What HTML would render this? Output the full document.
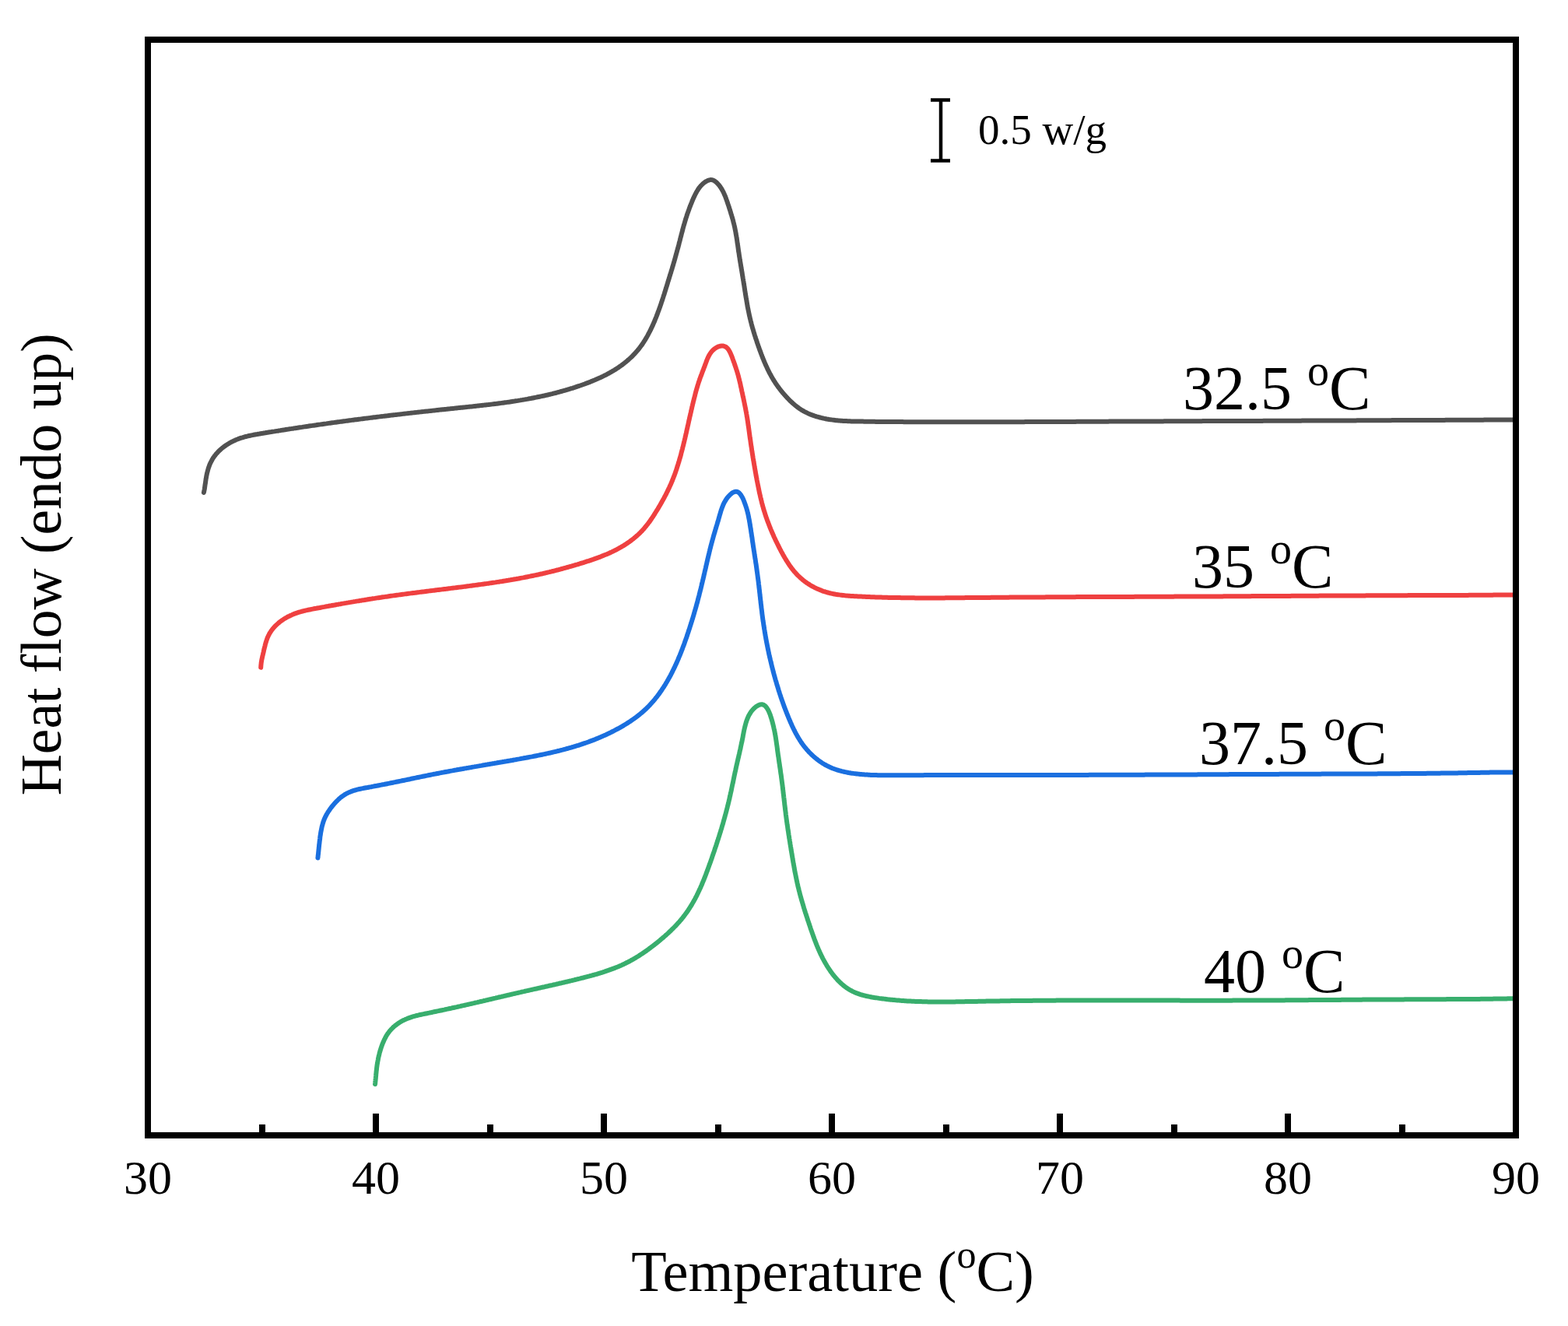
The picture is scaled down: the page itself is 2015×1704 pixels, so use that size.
<!DOCTYPE html>
<html><head><meta charset="utf-8"><title>DSC heat flow</title>
<style>
html,body{margin:0;padding:0;background:#fff;width:2015px;height:1704px;overflow:hidden}
svg{display:block}
text{font-family:"Liberation Serif","Times New Roman",serif;fill:#000}
.tl{font-size:62px}
.ax{font-size:74px}
.cl{font-size:80px}
.sb{font-size:55px}
</style></head><body>
<svg width="2015" height="1704" viewBox="0 0 2015 1704">
<rect x="0" y="0" width="2015" height="1704" fill="#fff"/>
<path d="M261.9,633.0 L262.2,631.5 L262.5,630.0 L262.8,628.5 L263.0,627.1 L263.2,625.6 L263.4,624.1 L263.6,622.6 L263.9,621.1 L264.1,619.7 L264.3,618.2 L264.5,616.7 L264.7,615.2 L265.0,613.8 L265.2,612.3 L265.5,610.8 L265.8,609.3 L266.1,607.9 L266.5,606.4 L266.9,604.9 L267.3,603.5 L267.7,602.0 L268.2,600.6 L268.7,599.2 L269.2,597.7 L269.8,596.3 L270.4,595.0 L271.1,593.6 L271.8,592.3 L272.5,591.0 L273.2,589.7 L274.0,588.4 L274.9,587.2 L275.7,586.0 L276.7,584.8 L277.6,583.6 L278.6,582.5 L279.6,581.4 L280.6,580.3 L281.7,579.3 L282.8,578.3 L283.9,577.2 L285.0,576.3 L286.2,575.3 L287.4,574.4 L288.6,573.5 L289.8,572.6 L291.1,571.8 L292.3,571.0 L293.6,570.2 L294.9,569.4 L296.2,568.7 L297.6,567.9 L298.9,567.3 L300.3,566.6 L301.7,566.0 L303.1,565.3 L304.4,564.8 L305.9,564.2 L307.3,563.7 L308.7,563.2 L310.1,562.7 L311.5,562.3 L313.0,561.8 L314.4,561.4 L315.9,561.0 L317.3,560.7 L318.8,560.3 L320.2,560.0 L321.7,559.7 L323.1,559.4 L324.6,559.1 L326.1,558.8 L327.6,558.5 L329.0,558.2 L330.5,558.0 L332.0,557.7 L333.5,557.5 L334.9,557.2 L336.4,557.0 L337.9,556.8 L339.4,556.5 L340.9,556.3 L342.3,556.0 L343.8,555.8 L345.3,555.5 L346.8,555.3 L348.3,555.1 L349.8,554.8 L351.2,554.6 L352.7,554.4 L354.2,554.1 L355.7,553.9 L357.2,553.7 L358.6,553.4 L360.1,553.2 L361.6,552.9 L363.1,552.7 L364.6,552.5 L366.1,552.3 L367.5,552.0 L369.0,551.8 L370.5,551.6 L372.0,551.3 L373.5,551.1 L375.0,550.9 L376.4,550.7 L377.9,550.4 L379.4,550.2 L380.9,550.0 L382.4,549.8 L383.9,549.5 L385.4,549.3 L386.8,549.1 L388.3,548.9 L389.8,548.6 L391.3,548.4 L392.8,548.2 L394.3,548.0 L395.8,547.8 L397.2,547.5 L398.7,547.3 L400.2,547.1 L401.7,546.9 L403.2,546.7 L404.7,546.5 L406.2,546.3 L407.6,546.0 L409.1,545.8 L410.6,545.6 L412.1,545.4 L413.6,545.2 L415.1,545.0 L416.6,544.8 L418.1,544.6 L419.5,544.4 L421.0,544.1 L422.5,543.9 L424.0,543.7 L425.5,543.5 L427.0,543.3 L428.5,543.1 L430.0,542.9 L431.4,542.7 L432.9,542.5 L434.4,542.3 L435.9,542.1 L437.4,541.9 L438.9,541.7 L440.4,541.5 L441.9,541.3 L443.4,541.1 L444.8,540.9 L446.3,540.7 L447.8,540.5 L449.3,540.3 L450.8,540.1 L452.3,539.9 L453.8,539.7 L455.3,539.5 L456.7,539.3 L458.2,539.2 L459.7,539.0 L461.2,538.8 L462.7,538.6 L464.2,538.4 L465.7,538.2 L467.2,538.0 L468.7,537.8 L470.1,537.6 L471.6,537.4 L473.1,537.3 L474.6,537.1 L476.1,536.9 L477.6,536.7 L479.1,536.5 L480.6,536.3 L482.1,536.2 L483.5,536.0 L485.0,535.8 L486.5,535.6 L488.0,535.4 L489.5,535.2 L491.0,535.1 L492.5,534.9 L494.0,534.7 L495.5,534.5 L496.9,534.4 L498.4,534.2 L499.9,534.0 L501.4,533.8 L502.9,533.6 L504.4,533.5 L505.9,533.3 L507.4,533.1 L508.9,532.9 L510.4,532.8 L511.8,532.6 L513.3,532.4 L514.8,532.3 L516.3,532.1 L517.8,531.9 L519.3,531.7 L520.8,531.6 L522.3,531.4 L523.8,531.2 L525.3,531.1 L526.7,530.9 L528.2,530.7 L529.7,530.6 L531.2,530.4 L532.7,530.2 L534.2,530.1 L535.7,529.9 L537.2,529.7 L538.7,529.6 L540.2,529.4 L541.7,529.2 L543.1,529.1 L544.6,528.9 L546.1,528.7 L547.6,528.6 L549.1,528.4 L550.6,528.3 L552.1,528.1 L553.6,527.9 L555.1,527.8 L556.6,527.6 L558.1,527.4 L559.6,527.3 L561.1,527.1 L562.5,527.0 L564.0,526.8 L565.5,526.6 L567.0,526.5 L568.5,526.3 L570.0,526.2 L571.5,526.0 L573.0,525.9 L574.5,525.7 L576.0,525.5 L577.5,525.4 L579.0,525.2 L580.5,525.1 L582.0,524.9 L583.5,524.8 L584.9,524.6 L586.4,524.5 L587.9,524.3 L589.4,524.1 L590.9,524.0 L592.4,523.8 L593.9,523.7 L595.4,523.5 L596.9,523.4 L598.4,523.2 L599.9,523.1 L601.4,522.9 L602.9,522.7 L604.4,522.6 L605.9,522.4 L607.4,522.3 L608.9,522.1 L610.4,522.0 L611.9,521.8 L613.3,521.6 L614.8,521.5 L616.3,521.3 L617.8,521.1 L619.3,521.0 L620.8,520.8 L622.3,520.6 L623.8,520.5 L625.3,520.3 L626.8,520.1 L628.3,519.9 L629.8,519.8 L631.3,519.6 L632.8,519.4 L634.2,519.2 L635.7,519.0 L637.2,518.9 L638.7,518.7 L640.2,518.5 L641.7,518.3 L643.2,518.1 L644.7,517.9 L646.2,517.7 L647.7,517.5 L649.1,517.3 L650.6,517.1 L652.1,516.9 L653.6,516.7 L655.1,516.5 L656.6,516.2 L658.1,516.0 L659.5,515.8 L661.0,515.6 L662.5,515.3 L664.0,515.1 L665.5,514.9 L666.9,514.6 L668.4,514.4 L669.9,514.1 L671.4,513.9 L672.9,513.6 L674.3,513.4 L675.8,513.1 L677.3,512.9 L678.8,512.6 L680.2,512.3 L681.7,512.1 L683.2,511.8 L684.7,511.5 L686.1,511.2 L687.6,510.9 L689.1,510.6 L690.5,510.3 L692.0,510.0 L693.5,509.7 L694.9,509.4 L696.4,509.1 L697.9,508.8 L699.3,508.5 L700.8,508.1 L702.3,507.8 L703.7,507.5 L705.2,507.1 L706.6,506.8 L708.1,506.4 L709.6,506.1 L711.0,505.7 L712.5,505.3 L713.9,505.0 L715.4,504.6 L716.8,504.2 L718.3,503.8 L719.7,503.4 L721.2,503.0 L722.6,502.6 L724.1,502.2 L725.5,501.8 L726.9,501.4 L728.4,501.0 L729.8,500.5 L731.3,500.1 L732.7,499.7 L734.1,499.2 L735.6,498.8 L737.0,498.3 L738.4,497.9 L739.9,497.4 L741.3,496.9 L742.7,496.4 L744.1,496.0 L745.6,495.5 L747.0,495.0 L748.4,494.5 L749.8,494.0 L751.2,493.5 L752.6,492.9 L754.1,492.4 L755.5,491.9 L756.9,491.3 L758.3,490.8 L759.7,490.2 L761.1,489.7 L762.5,489.1 L763.9,488.5 L765.2,487.9 L766.6,487.3 L768.0,486.7 L769.4,486.1 L770.7,485.5 L772.1,484.9 L773.5,484.2 L774.8,483.6 L776.2,482.9 L777.5,482.3 L778.9,481.6 L780.2,480.9 L781.5,480.2 L782.8,479.5 L784.1,478.7 L785.4,478.0 L786.7,477.2 L788.0,476.5 L789.3,475.7 L790.6,474.9 L791.9,474.1 L793.1,473.3 L794.4,472.5 L795.6,471.6 L796.8,470.8 L798.1,469.9 L799.3,469.0 L800.5,468.1 L801.7,467.2 L802.8,466.3 L804.0,465.3 L805.2,464.4 L806.3,463.4 L807.5,462.4 L808.6,461.4 L809.7,460.4 L810.8,459.4 L811.9,458.3 L812.9,457.3 L814.0,456.2 L815.0,455.1 L816.0,454.1 L817.0,452.9 L818.0,451.8 L819.0,450.7 L820.0,449.5 L820.9,448.4 L821.8,447.2 L822.7,446.0 L823.6,444.8 L824.5,443.6 L825.4,442.4 L826.2,441.1 L827.0,439.9 L827.8,438.6 L828.6,437.4 L829.4,436.1 L830.2,434.8 L830.9,433.5 L831.7,432.2 L832.4,430.9 L833.1,429.5 L833.8,428.2 L834.5,426.9 L835.2,425.5 L835.9,424.2 L836.5,422.8 L837.2,421.4 L837.8,420.1 L838.5,418.7 L839.1,417.3 L839.7,415.9 L840.3,414.6 L840.9,413.2 L841.5,411.8 L842.0,410.4 L842.6,409.0 L843.2,407.6 L843.7,406.2 L844.3,404.8 L844.8,403.4 L845.3,402.0 L845.8,400.5 L846.4,399.1 L846.9,397.7 L847.4,396.3 L847.9,394.9 L848.4,393.5 L848.9,392.1 L849.4,390.7 L849.8,389.2 L850.3,387.8 L850.8,386.4 L851.3,385.0 L851.7,383.6 L852.2,382.1 L852.6,380.7 L853.1,379.3 L853.6,377.9 L854.0,376.4 L854.5,375.0 L854.9,373.6 L855.3,372.2 L855.8,370.7 L856.2,369.3 L856.7,367.9 L857.1,366.4 L857.6,365.0 L858.0,363.6 L858.4,362.1 L858.9,360.7 L859.3,359.3 L859.8,357.8 L860.2,356.4 L860.6,355.0 L861.1,353.5 L861.5,352.1 L862.0,350.7 L862.4,349.2 L862.8,347.8 L863.3,346.4 L863.7,344.9 L864.1,343.5 L864.6,342.0 L865.0,340.6 L865.4,339.2 L865.8,337.7 L866.3,336.3 L866.7,334.8 L867.1,333.4 L867.5,331.9 L867.9,330.5 L868.3,329.0 L868.7,327.6 L869.1,326.1 L869.5,324.7 L869.9,323.2 L870.3,321.8 L870.7,320.3 L871.1,318.9 L871.5,317.4 L871.9,316.0 L872.3,314.5 L872.6,313.1 L873.0,311.6 L873.4,310.2 L873.8,308.7 L874.1,307.3 L874.5,305.8 L874.9,304.3 L875.3,302.9 L875.6,301.4 L876.0,300.0 L876.4,298.5 L876.8,297.1 L877.2,295.6 L877.5,294.2 L877.9,292.7 L878.3,291.3 L878.7,289.9 L879.1,288.4 L879.6,287.0 L880.0,285.5 L880.4,284.1 L880.8,282.7 L881.3,281.2 L881.7,279.8 L882.2,278.4 L882.6,277.0 L883.1,275.5 L883.6,274.1 L884.1,272.7 L884.6,271.3 L885.1,269.9 L885.6,268.5 L886.1,267.1 L886.6,265.7 L887.2,264.3 L887.7,262.9 L888.3,261.5 L888.9,260.1 L889.4,258.7 L890.0,257.3 L890.6,255.9 L891.2,254.6 L891.8,253.2 L892.5,251.8 L893.1,250.5 L893.8,249.1 L894.5,247.8 L895.2,246.5 L896.0,245.2 L896.8,243.9 L897.6,242.6 L898.5,241.4 L899.4,240.2 L900.4,239.1 L901.4,238.0 L902.5,236.9 L903.7,235.8 L904.9,234.8 L906.1,233.9 L907.4,233.1 L908.8,232.4 L910.1,231.8 L911.5,231.4 L912.9,231.1 L914.2,231.1 L915.5,231.3 L916.8,231.8 L918.1,232.4 L919.3,233.2 L920.5,234.2 L921.6,235.3 L922.7,236.5 L923.8,237.7 L924.8,239.0 L925.7,240.3 L926.6,241.6 L927.4,242.9 L928.2,244.3 L928.9,245.6 L929.6,246.9 L930.2,248.3 L930.8,249.6 L931.4,251.0 L932.0,252.3 L932.5,253.7 L933.0,255.1 L933.5,256.5 L934.0,257.8 L934.5,259.2 L934.9,260.6 L935.4,262.0 L935.9,263.4 L936.4,264.8 L936.8,266.3 L937.3,267.7 L937.7,269.1 L938.2,270.5 L938.7,272.0 L939.1,273.4 L939.5,274.9 L940.0,276.3 L940.4,277.8 L940.8,279.2 L941.3,280.7 L941.7,282.1 L942.1,283.6 L942.4,285.1 L942.8,286.5 L943.2,288.0 L943.5,289.5 L943.9,290.9 L944.2,292.4 L944.5,293.9 L944.8,295.3 L945.1,296.8 L945.4,298.3 L945.6,299.8 L945.9,301.3 L946.1,302.7 L946.4,304.2 L946.6,305.7 L946.9,307.2 L947.1,308.6 L947.3,310.1 L947.5,311.6 L947.7,313.1 L948.0,314.6 L948.2,316.0 L948.4,317.5 L948.6,319.0 L948.8,320.5 L949.0,322.0 L949.2,323.5 L949.5,324.9 L949.7,326.4 L949.9,327.9 L950.1,329.4 L950.4,330.9 L950.6,332.3 L950.8,333.8 L951.1,335.3 L951.3,336.8 L951.6,338.3 L951.8,339.7 L952.0,341.2 L952.3,342.7 L952.5,344.2 L952.8,345.7 L953.0,347.1 L953.3,348.6 L953.5,350.1 L953.8,351.6 L954.0,353.1 L954.2,354.6 L954.5,356.0 L954.7,357.5 L955.0,359.0 L955.2,360.5 L955.5,362.0 L955.7,363.5 L955.9,364.9 L956.2,366.4 L956.4,367.9 L956.6,369.4 L956.9,370.9 L957.1,372.4 L957.3,373.9 L957.6,375.3 L957.8,376.8 L958.0,378.3 L958.3,379.8 L958.5,381.3 L958.8,382.8 L959.0,384.2 L959.3,385.7 L959.5,387.2 L959.8,388.7 L960.0,390.2 L960.3,391.6 L960.5,393.1 L960.8,394.6 L961.1,396.1 L961.4,397.5 L961.7,399.0 L962.0,400.5 L962.3,402.0 L962.6,403.4 L962.9,404.9 L963.2,406.3 L963.6,407.8 L963.9,409.3 L964.3,410.7 L964.6,412.2 L965.0,413.6 L965.4,415.1 L965.7,416.5 L966.1,418.0 L966.5,419.4 L966.9,420.9 L967.3,422.3 L967.8,423.7 L968.2,425.2 L968.6,426.6 L969.0,428.0 L969.5,429.5 L969.9,430.9 L970.4,432.3 L970.8,433.8 L971.3,435.2 L971.8,436.6 L972.3,438.0 L972.7,439.5 L973.2,440.9 L973.7,442.3 L974.2,443.7 L974.7,445.2 L975.2,446.6 L975.7,448.0 L976.2,449.4 L976.7,450.8 L977.3,452.2 L977.8,453.7 L978.3,455.1 L978.9,456.5 L979.4,457.9 L979.9,459.3 L980.5,460.7 L981.1,462.1 L981.6,463.5 L982.2,464.9 L982.8,466.3 L983.4,467.6 L984.0,469.0 L984.6,470.4 L985.3,471.7 L985.9,473.1 L986.5,474.5 L987.2,475.8 L987.9,477.2 L988.5,478.5 L989.2,479.8 L989.9,481.1 L990.7,482.5 L991.4,483.8 L992.1,485.1 L992.9,486.3 L993.6,487.6 L994.4,488.9 L995.2,490.2 L996.0,491.4 L996.8,492.7 L997.7,493.9 L998.5,495.1 L999.4,496.4 L1000.3,497.6 L1001.2,498.8 L1002.1,500.0 L1003.0,501.2 L1003.9,502.3 L1004.9,503.5 L1005.8,504.7 L1006.8,505.8 L1007.8,506.9 L1008.8,508.1 L1009.8,509.2 L1010.8,510.3 L1011.8,511.4 L1012.9,512.5 L1013.9,513.6 L1015.0,514.7 L1016.1,515.7 L1017.2,516.8 L1018.3,517.8 L1019.4,518.8 L1020.6,519.8 L1021.7,520.7 L1022.9,521.7 L1024.1,522.6 L1025.3,523.5 L1026.5,524.4 L1027.7,525.2 L1029.0,526.1 L1030.2,526.9 L1031.5,527.6 L1032.8,528.4 L1034.1,529.1 L1035.5,529.8 L1036.8,530.4 L1038.2,531.1 L1039.5,531.7 L1040.9,532.3 L1042.3,532.8 L1043.7,533.4 L1045.1,533.9 L1046.5,534.4 L1048.0,534.8 L1049.4,535.3 L1050.8,535.7 L1052.3,536.1 L1053.7,536.5 L1055.2,536.9 L1056.7,537.2 L1058.1,537.6 L1059.6,537.9 L1061.1,538.2 L1062.5,538.5 L1064.0,538.7 L1065.5,539.0 L1067.0,539.2 L1068.4,539.4 L1069.9,539.6 L1071.4,539.8 L1072.9,540.0 L1074.4,540.2 L1075.9,540.3 L1077.4,540.4 L1078.9,540.6 L1080.4,540.7 L1081.9,540.8 L1083.3,540.9 L1084.8,541.0 L1086.3,541.1 L1087.8,541.1 L1089.3,541.2 L1090.8,541.3 L1092.3,541.3 L1093.9,541.4 L1095.4,541.4 L1096.9,541.4 L1098.4,541.5 L1099.9,541.5 L1101.4,541.5 L1102.9,541.6 L1104.4,541.6 L1105.9,541.6 L1107.4,541.6 L1108.9,541.6 L1110.4,541.7 L1111.9,541.7 L1113.4,541.7 L1114.9,541.7 L1116.4,541.7 L1117.9,541.8 L1119.4,541.8 L1120.9,541.8 L1122.4,541.8 L1123.9,541.8 L1125.4,541.9 L1126.9,541.9 L1128.4,541.9 L1129.9,541.9 L1131.4,541.9 L1132.9,541.9 L1134.4,541.9 L1136.0,542.0 L1137.5,542.0 L1139.0,542.0 L1140.5,542.0 L1142.0,542.0 L1143.5,542.0 L1145.0,542.0 L1146.5,542.1 L1148.0,542.1 L1149.5,542.1 L1151.0,542.1 L1152.5,542.1 L1154.0,542.1 L1155.5,542.1 L1157.0,542.1 L1158.5,542.1 L1160.0,542.1 L1161.5,542.2 L1163.0,542.2 L1164.5,542.2 L1166.0,542.2 L1167.5,542.2 L1169.0,542.2 L1170.5,542.2 L1172.0,542.2 L1173.5,542.2 L1175.0,542.2 L1176.5,542.2 L1178.0,542.2 L1179.5,542.2 L1181.0,542.3 L1182.5,542.3 L1184.0,542.3 L1185.5,542.3 L1187.0,542.3 L1188.5,542.3 L1190.0,542.3 L1191.5,542.3 L1193.0,542.3 L1194.5,542.3 L1196.0,542.3 L1197.5,542.3 L1199.0,542.3 L1200.5,542.3 L1202.0,542.3 L1203.5,542.3 L1205.0,542.3 L1206.5,542.3 L1208.0,542.3 L1209.5,542.3 L1211.0,542.3 L1212.5,542.3 L1214.0,542.3 L1215.5,542.3 L1217.0,542.3 L1218.5,542.3 L1220.0,542.3 L1221.5,542.3 L1223.0,542.3 L1224.5,542.3 L1226.0,542.3 L1227.5,542.3 L1229.0,542.3 L1230.5,542.3 L1232.0,542.3 L1233.5,542.3 L1235.0,542.3 L1236.5,542.3 L1238.0,542.3 L1239.5,542.3 L1241.0,542.3 L1242.5,542.3 L1244.0,542.3 L1245.5,542.3 L1247.0,542.3 L1248.5,542.3 L1250.0,542.3 L1251.5,542.3 L1253.0,542.3 L1254.5,542.3 L1256.0,542.3 L1257.5,542.3 L1259.0,542.3 L1260.5,542.3 L1262.0,542.3 L1263.5,542.3 L1265.0,542.3 L1266.5,542.3 L1268.0,542.3 L1269.5,542.3 L1271.0,542.3 L1272.5,542.3 L1274.0,542.3 L1275.5,542.3 L1277.0,542.3 L1278.5,542.3 L1280.0,542.3 L1281.5,542.3 L1283.0,542.3 L1284.5,542.3 L1286.0,542.3 L1287.5,542.2 L1289.0,542.2 L1290.5,542.2 L1292.0,542.2 L1293.5,542.2 L1295.0,542.2 L1296.5,542.2 L1298.0,542.2 L1299.5,542.2 L1301.0,542.2 L1302.5,542.2 L1304.0,542.2 L1305.5,542.2 L1307.0,542.2 L1308.5,542.2 L1310.0,542.2 L1311.5,542.2 L1313.0,542.2 L1314.5,542.2 L1316.0,542.2 L1317.5,542.1 L1319.0,542.1 L1320.5,542.1 L1322.0,542.1 L1323.5,542.1 L1325.0,542.1 L1326.5,542.1 L1328.1,542.1 L1329.6,542.1 L1331.1,542.1 L1332.6,542.1 L1334.1,542.1 L1335.6,542.1 L1337.1,542.1 L1338.6,542.1 L1340.1,542.1 L1341.6,542.0 L1343.1,542.0 L1344.6,542.0 L1346.1,542.0 L1347.6,542.0 L1349.1,542.0 L1350.6,542.0 L1352.1,542.0 L1353.6,542.0 L1355.1,542.0 L1356.6,542.0 L1358.1,542.0 L1359.6,542.0 L1361.1,542.0 L1362.6,541.9 L1364.1,541.9 L1365.6,541.9 L1367.1,541.9 L1368.6,541.9 L1370.1,541.9 L1371.6,541.9 L1373.1,541.9 L1374.6,541.9 L1376.1,541.9 L1377.6,541.9 L1379.1,541.9 L1380.6,541.9 L1382.1,541.9 L1383.6,541.8 L1385.1,541.8 L1386.6,541.8 L1388.1,541.8 L1389.6,541.8 L1391.1,541.8 L1392.6,541.8 L1394.1,541.8 L1395.6,541.8 L1397.1,541.8 L1398.6,541.8 L1400.1,541.8 L1401.6,541.8 L1403.1,541.8 L1404.6,541.7 L1406.1,541.7 L1407.6,541.7 L1409.1,541.7 L1410.6,541.7 L1412.1,541.7 L1413.6,541.7 L1415.1,541.7 L1416.6,541.7 L1418.1,541.7 L1419.6,541.7 L1421.1,541.7 L1422.6,541.7 L1424.1,541.7 L1425.6,541.6 L1427.1,541.6 L1428.6,541.6 L1430.1,541.6 L1431.6,541.6 L1433.1,541.6 L1434.6,541.6 L1436.1,541.6 L1437.6,541.6 L1439.1,541.6 L1440.6,541.6 L1442.1,541.6 L1443.6,541.6 L1445.1,541.6 L1446.7,541.6 L1448.2,541.5 L1449.7,541.5 L1451.2,541.5 L1452.7,541.5 L1454.2,541.5 L1455.7,541.5 L1457.2,541.5 L1458.7,541.5 L1460.2,541.5 L1461.7,541.5 L1463.2,541.5 L1464.7,541.5 L1466.2,541.5 L1467.7,541.5 L1469.2,541.5 L1470.7,541.5 L1472.2,541.4 L1473.7,541.4 L1475.2,541.4 L1476.7,541.4 L1478.2,541.4 L1479.7,541.4 L1481.2,541.4 L1482.7,541.4 L1484.2,541.4 L1485.7,541.4 L1487.2,541.4 L1488.7,541.4 L1490.2,541.4 L1491.7,541.4 L1493.2,541.4 L1494.7,541.4 L1496.2,541.3 L1497.7,541.3 L1499.2,541.3 L1500.7,541.3 L1502.2,541.3 L1503.7,541.3 L1505.2,541.3 L1506.7,541.3 L1508.2,541.3 L1509.7,541.3 L1511.2,541.3 L1512.7,541.3 L1514.2,541.3 L1515.7,541.3 L1517.2,541.3 L1518.7,541.3 L1520.2,541.2 L1521.7,541.2 L1523.2,541.2 L1524.7,541.2 L1526.2,541.2 L1527.7,541.2 L1529.2,541.2 L1530.7,541.2 L1532.2,541.2 L1533.7,541.2 L1535.2,541.2 L1536.7,541.2 L1538.2,541.2 L1539.7,541.2 L1541.2,541.2 L1542.7,541.2 L1544.2,541.2 L1545.7,541.1 L1547.2,541.1 L1548.7,541.1 L1550.2,541.1 L1551.7,541.1 L1553.2,541.1 L1554.7,541.1 L1556.2,541.1 L1557.7,541.1 L1559.2,541.1 L1560.7,541.1 L1562.2,541.1 L1563.7,541.1 L1565.2,541.1 L1566.7,541.1 L1568.2,541.1 L1569.7,541.1 L1571.2,541.1 L1572.7,541.0 L1574.2,541.0 L1575.7,541.0 L1577.2,541.0 L1578.7,541.0 L1580.2,541.0 L1581.7,541.0 L1583.2,541.0 L1584.7,541.0 L1586.2,541.0 L1587.7,541.0 L1589.2,541.0 L1590.7,541.0 L1592.2,541.0 L1593.7,541.0 L1595.3,541.0 L1596.8,541.0 L1598.3,540.9 L1599.8,540.9 L1601.3,540.9 L1602.8,540.9 L1604.3,540.9 L1605.8,540.9 L1607.3,540.9 L1608.8,540.9 L1610.3,540.9 L1611.8,540.9 L1613.3,540.9 L1614.8,540.9 L1616.3,540.9 L1617.8,540.9 L1619.3,540.9 L1620.8,540.9 L1622.3,540.9 L1623.8,540.8 L1625.3,540.8 L1626.8,540.8 L1628.3,540.8 L1629.8,540.8 L1631.3,540.8 L1632.8,540.8 L1634.3,540.8 L1635.8,540.8 L1637.3,540.8 L1638.8,540.8 L1640.3,540.8 L1641.8,540.8 L1643.3,540.8 L1644.8,540.8 L1646.3,540.8 L1647.8,540.8 L1649.3,540.7 L1650.8,540.7 L1652.3,540.7 L1653.8,540.7 L1655.3,540.7 L1656.8,540.7 L1658.3,540.7 L1659.8,540.7 L1661.3,540.7 L1662.8,540.7 L1664.3,540.7 L1665.8,540.7 L1667.3,540.7 L1668.8,540.7 L1670.3,540.7 L1671.8,540.7 L1673.3,540.6 L1674.8,540.6 L1676.3,540.6 L1677.8,540.6 L1679.3,540.6 L1680.8,540.6 L1682.3,540.6 L1683.8,540.6 L1685.3,540.6 L1686.8,540.6 L1688.3,540.6 L1689.8,540.6 L1691.3,540.6 L1692.8,540.6 L1694.3,540.6 L1695.8,540.6 L1697.3,540.5 L1698.8,540.5 L1700.3,540.5 L1701.8,540.5 L1703.3,540.5 L1704.8,540.5 L1706.3,540.5 L1707.8,540.5 L1709.3,540.5 L1710.8,540.5 L1712.3,540.5 L1713.8,540.5 L1715.3,540.5 L1716.8,540.5 L1718.3,540.5 L1719.8,540.5 L1721.3,540.4 L1722.8,540.4 L1724.3,540.4 L1725.8,540.4 L1727.3,540.4 L1728.8,540.4 L1730.3,540.4 L1731.8,540.4 L1733.3,540.4 L1734.8,540.4 L1736.3,540.4 L1737.8,540.4 L1739.3,540.4 L1740.9,540.4 L1742.4,540.4 L1743.9,540.3 L1745.4,540.3 L1746.9,540.3 L1748.4,540.3 L1749.9,540.3 L1751.4,540.3 L1752.9,540.3 L1754.4,540.3 L1755.9,540.3 L1757.4,540.3 L1758.9,540.3 L1760.4,540.3 L1761.9,540.3 L1763.4,540.3 L1764.9,540.3 L1766.4,540.2 L1767.9,540.2 L1769.4,540.2 L1770.9,540.2 L1772.4,540.2 L1773.9,540.2 L1775.4,540.2 L1776.9,540.2 L1778.4,540.2 L1779.9,540.2 L1781.4,540.2 L1782.9,540.2 L1784.4,540.2 L1785.9,540.2 L1787.4,540.2 L1788.9,540.1 L1790.4,540.1 L1791.9,540.1 L1793.4,540.1 L1794.9,540.1 L1796.4,540.1 L1797.9,540.1 L1799.4,540.1 L1800.9,540.1 L1802.4,540.1 L1803.9,540.1 L1805.4,540.1 L1806.9,540.1 L1808.4,540.1 L1809.9,540.1 L1811.4,540.0 L1812.9,540.0 L1814.4,540.0 L1815.9,540.0 L1817.4,540.0 L1818.9,540.0 L1820.4,540.0 L1821.9,540.0 L1823.4,540.0 L1824.9,540.0 L1826.4,540.0 L1827.9,540.0 L1829.4,540.0 L1830.9,540.0 L1832.4,540.0 L1833.9,539.9 L1835.4,539.9 L1836.9,539.9 L1838.4,539.9 L1839.9,539.9 L1841.4,539.9 L1842.9,539.9 L1844.4,539.9 L1845.9,539.9 L1847.4,539.9 L1848.9,539.9 L1850.4,539.9 L1851.9,539.9 L1853.4,539.9 L1854.9,539.9 L1856.4,539.9 L1857.9,539.8 L1859.4,539.8 L1860.9,539.8 L1862.4,539.8 L1863.9,539.8 L1865.4,539.8 L1866.9,539.8 L1868.4,539.8 L1869.9,539.8 L1871.4,539.8 L1872.9,539.8 L1874.5,539.8 L1876.0,539.8 L1877.5,539.8 L1879.0,539.8 L1880.5,539.8 L1882.0,539.7 L1883.5,539.7 L1885.0,539.7 L1886.5,539.7 L1888.0,539.7 L1889.5,539.7 L1891.0,539.7 L1892.5,539.7 L1894.0,539.7 L1895.5,539.7 L1897.0,539.7 L1898.5,539.7 L1900.0,539.7 L1901.5,539.7 L1903.0,539.7 L1904.5,539.7 L1906.0,539.7 L1907.5,539.6 L1909.0,539.6 L1910.5,539.6 L1912.0,539.6 L1913.5,539.6 L1915.0,539.6 L1916.5,539.6 L1918.0,539.6 L1919.5,539.6 L1921.0,539.6 L1922.5,539.6 L1924.0,539.6 L1925.5,539.6 L1927.0,539.6 L1928.5,539.6 L1930.0,539.6 L1931.5,539.6 L1933.0,539.6 L1934.5,539.5 L1936.0,539.5 L1937.5,539.5 L1939.0,539.5 L1940.5,539.5 L1942.0,539.5 L1943.5,539.5 L1945.0,539.5 L1946.5,539.5 L1948.0,539.5" fill="none" stroke="#515151" stroke-width="6" stroke-linejoin="round" stroke-linecap="round"/>
<path d="M335.2,857.7 L335.3,856.2 L335.4,854.7 L335.6,853.1 L335.7,851.7 L336.0,850.2 L336.2,848.7 L336.5,847.2 L336.8,845.8 L337.1,844.3 L337.4,842.9 L337.8,841.4 L338.1,840.0 L338.5,838.5 L338.8,837.1 L339.1,835.6 L339.5,834.1 L339.8,832.7 L340.2,831.2 L340.6,829.7 L340.9,828.2 L341.3,826.8 L341.8,825.3 L342.2,823.9 L342.7,822.4 L343.2,821.0 L343.7,819.6 L344.3,818.2 L344.9,816.9 L345.6,815.6 L346.3,814.2 L347.1,813.0 L347.9,811.7 L348.7,810.5 L349.6,809.3 L350.5,808.1 L351.5,806.9 L352.5,805.8 L353.5,804.7 L354.6,803.6 L355.7,802.6 L356.8,801.6 L357.9,800.6 L359.1,799.6 L360.3,798.7 L361.5,797.8 L362.7,797.0 L364.0,796.1 L365.2,795.3 L366.5,794.5 L367.8,793.8 L369.1,793.0 L370.5,792.3 L371.8,791.7 L373.2,791.0 L374.6,790.4 L375.9,789.8 L377.3,789.2 L378.7,788.7 L380.1,788.2 L381.6,787.7 L383.0,787.2 L384.4,786.7 L385.8,786.3 L387.3,785.9 L388.7,785.5 L390.2,785.1 L391.6,784.8 L393.1,784.4 L394.6,784.1 L396.0,783.8 L397.5,783.5 L399.0,783.2 L400.4,782.9 L401.9,782.6 L403.4,782.3 L404.9,782.0 L406.3,781.8 L407.8,781.5 L409.3,781.2 L410.8,781.0 L412.2,780.7 L413.7,780.4 L415.2,780.1 L416.7,779.9 L418.1,779.6 L419.6,779.3 L421.1,779.1 L422.6,778.8 L424.1,778.5 L425.5,778.3 L427.0,778.0 L428.5,777.7 L430.0,777.5 L431.5,777.2 L432.9,776.9 L434.4,776.7 L435.9,776.4 L437.4,776.2 L438.8,775.9 L440.3,775.6 L441.8,775.4 L443.3,775.1 L444.8,774.9 L446.3,774.6 L447.7,774.4 L449.2,774.1 L450.7,773.9 L452.2,773.6 L453.7,773.4 L455.1,773.1 L456.6,772.9 L458.1,772.6 L459.6,772.4 L461.1,772.2 L462.5,771.9 L464.0,771.7 L465.5,771.4 L467.0,771.2 L468.5,771.0 L470.0,770.7 L471.4,770.5 L472.9,770.2 L474.4,770.0 L475.9,769.8 L477.4,769.6 L478.9,769.3 L480.3,769.1 L481.8,768.9 L483.3,768.6 L484.8,768.4 L486.3,768.2 L487.8,768.0 L489.3,767.8 L490.7,767.5 L492.2,767.3 L493.7,767.1 L495.2,766.9 L496.7,766.7 L498.2,766.5 L499.7,766.2 L501.1,766.0 L502.6,765.8 L504.1,765.6 L505.6,765.4 L507.1,765.2 L508.6,765.0 L510.1,764.8 L511.6,764.6 L513.0,764.4 L514.5,764.2 L516.0,764.0 L517.5,763.8 L519.0,763.6 L520.5,763.4 L522.0,763.2 L523.5,763.0 L524.9,762.8 L526.4,762.6 L527.9,762.4 L529.4,762.2 L530.9,762.0 L532.4,761.9 L533.9,761.7 L535.4,761.5 L536.9,761.3 L538.3,761.1 L539.8,760.9 L541.3,760.7 L542.8,760.5 L544.3,760.4 L545.8,760.2 L547.3,760.0 L548.8,759.8 L550.3,759.6 L551.8,759.4 L553.2,759.2 L554.7,759.1 L556.2,758.9 L557.7,758.7 L559.2,758.5 L560.7,758.3 L562.2,758.1 L563.7,758.0 L565.2,757.8 L566.7,757.6 L568.1,757.4 L569.6,757.2 L571.1,757.0 L572.6,756.9 L574.1,756.7 L575.6,756.5 L577.1,756.3 L578.6,756.1 L580.1,755.9 L581.6,755.7 L583.1,755.6 L584.5,755.4 L586.0,755.2 L587.5,755.0 L589.0,754.8 L590.5,754.6 L592.0,754.4 L593.5,754.3 L595.0,754.1 L596.5,753.9 L598.0,753.7 L599.5,753.5 L600.9,753.3 L602.4,753.1 L603.9,752.9 L605.4,752.7 L606.9,752.5 L608.4,752.3 L609.9,752.1 L611.4,751.9 L612.9,751.7 L614.3,751.5 L615.8,751.3 L617.3,751.1 L618.8,750.9 L620.3,750.7 L621.8,750.5 L623.3,750.3 L624.8,750.1 L626.3,749.9 L627.7,749.7 L629.2,749.4 L630.7,749.2 L632.2,749.0 L633.7,748.8 L635.2,748.6 L636.7,748.4 L638.1,748.1 L639.6,747.9 L641.1,747.7 L642.6,747.4 L644.1,747.2 L645.6,747.0 L647.0,746.7 L648.5,746.5 L650.0,746.3 L651.5,746.0 L653.0,745.8 L654.5,745.5 L655.9,745.3 L657.4,745.0 L658.9,744.8 L660.4,744.5 L661.9,744.2 L663.3,744.0 L664.8,743.7 L666.3,743.5 L667.8,743.2 L669.2,742.9 L670.7,742.6 L672.2,742.4 L673.7,742.1 L675.1,741.8 L676.6,741.5 L678.1,741.2 L679.6,740.9 L681.0,740.6 L682.5,740.3 L684.0,740.0 L685.4,739.7 L686.9,739.4 L688.4,739.1 L689.9,738.8 L691.3,738.5 L692.8,738.1 L694.3,737.8 L695.7,737.5 L697.2,737.2 L698.6,736.8 L700.1,736.5 L701.6,736.1 L703.0,735.8 L704.5,735.4 L706.0,735.1 L707.4,734.7 L708.9,734.4 L710.3,734.0 L711.8,733.7 L713.2,733.3 L714.7,732.9 L716.2,732.5 L717.6,732.2 L719.1,731.8 L720.5,731.4 L722.0,731.0 L723.4,730.6 L724.9,730.2 L726.3,729.8 L727.8,729.4 L729.2,729.0 L730.7,728.6 L732.1,728.2 L733.5,727.8 L735.0,727.4 L736.4,727.0 L737.9,726.5 L739.3,726.1 L740.7,725.7 L742.2,725.3 L743.6,724.8 L745.1,724.4 L746.5,723.9 L747.9,723.5 L749.4,723.1 L750.8,722.6 L752.2,722.2 L753.7,721.7 L755.1,721.2 L756.5,720.8 L757.9,720.3 L759.4,719.8 L760.8,719.3 L762.2,718.9 L763.6,718.4 L765.0,717.9 L766.4,717.4 L767.8,716.9 L769.2,716.3 L770.6,715.8 L772.0,715.3 L773.4,714.7 L774.8,714.2 L776.2,713.6 L777.6,713.0 L779.0,712.5 L780.4,711.9 L781.8,711.3 L783.1,710.7 L784.5,710.0 L785.9,709.4 L787.2,708.8 L788.6,708.1 L789.9,707.4 L791.3,706.8 L792.6,706.1 L793.9,705.4 L795.2,704.7 L796.6,703.9 L797.9,703.2 L799.2,702.4 L800.5,701.7 L801.7,700.9 L803.0,700.1 L804.3,699.3 L805.5,698.4 L806.8,697.6 L808.0,696.7 L809.2,695.9 L810.4,695.0 L811.6,694.1 L812.8,693.2 L814.0,692.3 L815.2,691.3 L816.3,690.4 L817.4,689.4 L818.6,688.4 L819.7,687.4 L820.8,686.4 L821.8,685.4 L822.9,684.3 L823.9,683.2 L825.0,682.2 L826.0,681.1 L827.0,680.0 L828.0,678.8 L828.9,677.7 L829.9,676.5 L830.8,675.4 L831.8,674.2 L832.7,673.0 L833.6,671.8 L834.5,670.6 L835.4,669.4 L836.2,668.1 L837.1,666.9 L837.9,665.7 L838.8,664.4 L839.6,663.1 L840.4,661.9 L841.2,660.6 L842.0,659.3 L842.8,658.0 L843.6,656.7 L844.4,655.5 L845.2,654.2 L846.0,652.9 L846.7,651.6 L847.5,650.3 L848.3,649.0 L849.0,647.7 L849.8,646.3 L850.5,645.0 L851.2,643.7 L852.0,642.4 L852.7,641.1 L853.4,639.8 L854.1,638.4 L854.8,637.1 L855.5,635.8 L856.2,634.5 L856.8,633.1 L857.5,631.8 L858.2,630.4 L858.8,629.1 L859.5,627.7 L860.1,626.4 L860.7,625.0 L861.3,623.7 L862.0,622.3 L862.6,620.9 L863.1,619.6 L863.7,618.2 L864.3,616.8 L864.8,615.4 L865.4,614.0 L865.9,612.6 L866.5,611.2 L867.0,609.8 L867.5,608.4 L868.0,607.0 L868.5,605.6 L869.0,604.1 L869.5,602.7 L869.9,601.3 L870.4,599.8 L870.8,598.4 L871.3,597.0 L871.7,595.5 L872.2,594.1 L872.6,592.7 L873.0,591.2 L873.4,589.8 L873.9,588.3 L874.3,586.9 L874.7,585.4 L875.1,584.0 L875.4,582.5 L875.8,581.0 L876.2,579.6 L876.6,578.1 L877.0,576.7 L877.3,575.2 L877.7,573.8 L878.1,572.3 L878.4,570.8 L878.8,569.4 L879.1,567.9 L879.5,566.4 L879.8,565.0 L880.2,563.5 L880.5,562.1 L880.9,560.6 L881.2,559.1 L881.5,557.7 L881.9,556.2 L882.2,554.7 L882.5,553.3 L882.8,551.8 L883.2,550.4 L883.5,548.9 L883.8,547.4 L884.2,546.0 L884.5,544.5 L884.8,543.1 L885.1,541.6 L885.5,540.1 L885.8,538.7 L886.1,537.2 L886.4,535.8 L886.8,534.3 L887.1,532.9 L887.4,531.4 L887.8,529.9 L888.1,528.5 L888.4,527.0 L888.8,525.6 L889.1,524.1 L889.4,522.6 L889.8,521.2 L890.1,519.7 L890.5,518.3 L890.8,516.8 L891.2,515.3 L891.6,513.9 L891.9,512.4 L892.3,510.9 L892.7,509.5 L893.1,508.0 L893.4,506.5 L893.8,505.1 L894.2,503.6 L894.6,502.1 L895.0,500.7 L895.4,499.2 L895.9,497.8 L896.3,496.3 L896.7,494.9 L897.2,493.4 L897.6,492.0 L898.1,490.6 L898.6,489.2 L899.1,487.8 L899.5,486.4 L900.0,485.0 L900.5,483.7 L901.1,482.3 L901.6,480.9 L902.1,479.5 L902.6,478.2 L903.1,476.8 L903.7,475.4 L904.2,474.0 L904.7,472.6 L905.3,471.2 L905.8,469.7 L906.3,468.3 L906.9,466.8 L907.4,465.4 L908.0,463.9 L908.5,462.5 L909.1,461.0 L909.8,459.6 L910.4,458.2 L911.2,456.8 L911.9,455.5 L912.7,454.2 L913.6,453.0 L914.5,451.8 L915.5,450.7 L916.6,449.6 L917.8,448.6 L919.0,447.7 L920.3,446.9 L921.6,446.2 L922.9,445.5 L924.3,445.1 L925.6,444.7 L927.0,444.5 L928.3,444.5 L929.6,444.6 L930.8,444.9 L932.0,445.4 L933.1,446.0 L934.1,446.9 L935.1,447.9 L936.0,449.0 L936.8,450.3 L937.6,451.7 L938.3,453.1 L939.0,454.6 L939.7,456.2 L940.3,457.8 L941.0,459.4 L941.5,461.0 L942.1,462.6 L942.6,464.1 L943.2,465.6 L943.7,467.0 L944.2,468.5 L944.6,469.8 L945.1,471.2 L945.6,472.6 L946.0,473.9 L946.5,475.3 L946.9,476.6 L947.3,477.9 L947.7,479.3 L948.1,480.6 L948.5,482.0 L948.9,483.4 L949.2,484.8 L949.6,486.2 L950.0,487.7 L950.3,489.2 L950.7,490.6 L951.0,492.1 L951.4,493.6 L951.7,495.1 L952.0,496.7 L952.4,498.2 L952.7,499.7 L953.0,501.2 L953.3,502.7 L953.7,504.2 L954.0,505.7 L954.3,507.2 L954.6,508.7 L954.9,510.1 L955.3,511.6 L955.6,513.1 L955.9,514.5 L956.2,516.0 L956.5,517.5 L956.8,518.9 L957.1,520.4 L957.4,521.8 L957.7,523.3 L958.0,524.7 L958.2,526.2 L958.5,527.6 L958.8,529.1 L959.1,530.5 L959.3,532.0 L959.6,533.5 L959.8,535.0 L960.1,536.4 L960.3,537.9 L960.5,539.4 L960.8,540.9 L961.0,542.4 L961.2,543.9 L961.4,545.3 L961.6,546.8 L961.9,548.3 L962.1,549.8 L962.3,551.3 L962.5,552.8 L962.7,554.3 L962.9,555.8 L963.1,557.3 L963.3,558.8 L963.5,560.3 L963.7,561.8 L963.9,563.3 L964.2,564.8 L964.4,566.3 L964.6,567.8 L964.8,569.3 L965.0,570.8 L965.2,572.2 L965.4,573.7 L965.7,575.2 L965.9,576.7 L966.1,578.2 L966.3,579.6 L966.6,581.1 L966.8,582.6 L967.0,584.1 L967.3,585.6 L967.5,587.0 L967.7,588.5 L968.0,590.0 L968.2,591.5 L968.5,592.9 L968.7,594.4 L969.0,595.9 L969.2,597.3 L969.5,598.8 L969.7,600.3 L970.0,601.8 L970.2,603.2 L970.5,604.7 L970.7,606.2 L971.0,607.7 L971.3,609.1 L971.5,610.6 L971.8,612.1 L972.1,613.6 L972.4,615.1 L972.6,616.5 L972.9,618.0 L973.2,619.5 L973.5,621.0 L973.8,622.5 L974.1,623.9 L974.4,625.4 L974.7,626.9 L975.0,628.4 L975.3,629.9 L975.6,631.3 L975.9,632.8 L976.2,634.3 L976.6,635.8 L976.9,637.2 L977.2,638.7 L977.6,640.2 L977.9,641.6 L978.3,643.1 L978.7,644.6 L979.0,646.0 L979.4,647.5 L979.8,648.9 L980.2,650.4 L980.6,651.8 L981.0,653.3 L981.4,654.7 L981.9,656.2 L982.3,657.6 L982.8,659.0 L983.2,660.5 L983.7,661.9 L984.1,663.3 L984.6,664.7 L985.1,666.1 L985.6,667.5 L986.1,668.9 L986.6,670.3 L987.2,671.7 L987.7,673.1 L988.2,674.5 L988.8,675.9 L989.3,677.3 L989.9,678.7 L990.4,680.1 L991.0,681.4 L991.6,682.8 L992.2,684.2 L992.8,685.6 L993.4,686.9 L994.0,688.3 L994.6,689.7 L995.2,691.0 L995.9,692.4 L996.5,693.7 L997.1,695.1 L997.8,696.4 L998.5,697.8 L999.1,699.1 L999.8,700.5 L1000.5,701.8 L1001.1,703.2 L1001.8,704.5 L1002.5,705.9 L1003.2,707.2 L1003.9,708.6 L1004.6,709.9 L1005.4,711.2 L1006.1,712.6 L1006.8,713.9 L1007.6,715.2 L1008.3,716.5 L1009.1,717.8 L1009.9,719.1 L1010.7,720.4 L1011.5,721.7 L1012.3,722.9 L1013.1,724.2 L1013.9,725.4 L1014.8,726.7 L1015.7,727.9 L1016.5,729.1 L1017.4,730.3 L1018.3,731.5 L1019.3,732.7 L1020.2,733.8 L1021.2,735.0 L1022.2,736.1 L1023.2,737.2 L1024.2,738.3 L1025.2,739.4 L1026.3,740.4 L1027.4,741.4 L1028.5,742.5 L1029.6,743.4 L1030.7,744.4 L1031.9,745.4 L1033.1,746.3 L1034.2,747.2 L1035.5,748.1 L1036.7,749.0 L1037.9,749.8 L1039.2,750.6 L1040.5,751.4 L1041.7,752.2 L1043.0,753.0 L1044.4,753.7 L1045.7,754.4 L1047.0,755.1 L1048.4,755.8 L1049.7,756.4 L1051.1,757.0 L1052.5,757.6 L1053.9,758.2 L1055.3,758.7 L1056.7,759.3 L1058.1,759.8 L1059.5,760.2 L1060.9,760.7 L1062.4,761.1 L1063.8,761.5 L1065.3,761.9 L1066.7,762.3 L1068.2,762.6 L1069.6,762.9 L1071.1,763.2 L1072.6,763.5 L1074.0,763.8 L1075.5,764.0 L1077.0,764.2 L1078.5,764.4 L1080.0,764.6 L1081.4,764.8 L1082.9,765.0 L1084.4,765.1 L1085.9,765.3 L1087.4,765.4 L1088.9,765.6 L1090.4,765.7 L1091.9,765.8 L1093.4,765.9 L1094.9,766.0 L1096.4,766.1 L1097.9,766.2 L1099.5,766.3 L1101.0,766.3 L1102.5,766.4 L1104.0,766.5 L1105.5,766.6 L1107.0,766.6 L1108.5,766.7 L1110.0,766.8 L1111.5,766.8 L1113.0,766.9 L1114.5,767.0 L1116.0,767.0 L1117.5,767.1 L1119.0,767.2 L1120.5,767.2 L1122.1,767.3 L1123.6,767.3 L1125.1,767.4 L1126.6,767.4 L1128.1,767.5 L1129.6,767.5 L1131.1,767.6 L1132.6,767.6 L1134.1,767.7 L1135.6,767.7 L1137.1,767.7 L1138.6,767.8 L1140.1,767.8 L1141.6,767.9 L1143.1,767.9 L1144.6,767.9 L1146.1,768.0 L1147.6,768.0 L1149.1,768.0 L1150.6,768.0 L1152.1,768.1 L1153.6,768.1 L1155.1,768.1 L1156.6,768.1 L1158.1,768.2 L1159.6,768.2 L1161.1,768.2 L1162.7,768.2 L1164.2,768.2 L1165.7,768.3 L1167.2,768.3 L1168.7,768.3 L1170.2,768.3 L1171.7,768.3 L1173.2,768.3 L1174.7,768.3 L1176.2,768.4 L1177.7,768.4 L1179.2,768.4 L1180.7,768.4 L1182.2,768.4 L1183.7,768.4 L1185.2,768.4 L1186.7,768.4 L1188.2,768.4 L1189.7,768.4 L1191.2,768.4 L1192.7,768.4 L1194.2,768.4 L1195.7,768.4 L1197.2,768.4 L1198.7,768.4 L1200.2,768.4 L1201.7,768.4 L1203.2,768.4 L1204.7,768.4 L1206.2,768.4 L1207.7,768.4 L1209.2,768.4 L1210.7,768.4 L1212.2,768.4 L1213.7,768.4 L1215.2,768.3 L1216.7,768.3 L1218.2,768.3 L1219.7,768.3 L1221.2,768.3 L1222.7,768.3 L1224.2,768.3 L1225.7,768.3 L1227.2,768.3 L1228.7,768.2 L1230.2,768.2 L1231.7,768.2 L1233.2,768.2 L1234.7,768.2 L1236.2,768.2 L1237.7,768.2 L1239.2,768.2 L1240.7,768.1 L1242.2,768.1 L1243.7,768.1 L1245.2,768.1 L1246.7,768.1 L1248.2,768.1 L1249.7,768.1 L1251.2,768.0 L1252.7,768.0 L1254.2,768.0 L1255.7,768.0 L1257.2,768.0 L1258.7,768.0 L1260.2,768.0 L1261.7,767.9 L1263.2,767.9 L1264.7,767.9 L1266.2,767.9 L1267.7,767.9 L1269.2,767.9 L1270.7,767.9 L1272.2,767.9 L1273.7,767.8 L1275.2,767.8 L1276.7,767.8 L1278.2,767.8 L1279.7,767.8 L1281.2,767.8 L1282.7,767.8 L1284.2,767.8 L1285.7,767.7 L1287.2,767.7 L1288.7,767.7 L1290.2,767.7 L1291.7,767.7 L1293.2,767.7 L1294.7,767.7 L1296.2,767.7 L1297.7,767.6 L1299.2,767.6 L1300.7,767.6 L1302.2,767.6 L1303.7,767.6 L1305.2,767.6 L1306.7,767.6 L1308.2,767.6 L1309.7,767.6 L1311.2,767.5 L1312.7,767.5 L1314.2,767.5 L1315.7,767.5 L1317.2,767.5 L1318.7,767.5 L1320.2,767.5 L1321.7,767.5 L1323.2,767.5 L1324.7,767.5 L1326.2,767.5 L1327.7,767.4 L1329.2,767.4 L1330.7,767.4 L1332.2,767.4 L1333.7,767.4 L1335.2,767.4 L1336.7,767.4 L1338.2,767.4 L1339.7,767.4 L1341.2,767.4 L1342.7,767.4 L1344.2,767.3 L1345.7,767.3 L1347.2,767.3 L1348.7,767.3 L1350.2,767.3 L1351.7,767.3 L1353.2,767.3 L1354.8,767.3 L1356.3,767.3 L1357.8,767.3 L1359.3,767.3 L1360.8,767.3 L1362.3,767.2 L1363.8,767.2 L1365.3,767.2 L1366.8,767.2 L1368.3,767.2 L1369.8,767.2 L1371.3,767.2 L1372.8,767.2 L1374.3,767.2 L1375.8,767.2 L1377.3,767.2 L1378.8,767.2 L1380.3,767.2 L1381.8,767.2 L1383.3,767.1 L1384.8,767.1 L1386.3,767.1 L1387.8,767.1 L1389.3,767.1 L1390.8,767.1 L1392.3,767.1 L1393.8,767.1 L1395.3,767.1 L1396.8,767.1 L1398.3,767.1 L1399.8,767.1 L1401.3,767.1 L1402.8,767.1 L1404.3,767.1 L1405.8,767.1 L1407.3,767.0 L1408.8,767.0 L1410.3,767.0 L1411.8,767.0 L1413.3,767.0 L1414.8,767.0 L1416.3,767.0 L1417.8,767.0 L1419.3,767.0 L1420.8,767.0 L1422.3,767.0 L1423.9,767.0 L1425.4,767.0 L1426.9,767.0 L1428.4,767.0 L1429.9,767.0 L1431.4,767.0 L1432.9,766.9 L1434.4,766.9 L1435.9,766.9 L1437.4,766.9 L1438.9,766.9 L1440.4,766.9 L1441.9,766.9 L1443.4,766.9 L1444.9,766.9 L1446.4,766.9 L1447.9,766.9 L1449.4,766.9 L1450.9,766.9 L1452.4,766.9 L1453.9,766.9 L1455.4,766.9 L1456.9,766.9 L1458.4,766.8 L1459.9,766.8 L1461.4,766.8 L1462.9,766.8 L1464.4,766.8 L1465.9,766.8 L1467.4,766.8 L1468.9,766.8 L1470.4,766.8 L1471.9,766.8 L1473.4,766.8 L1474.9,766.8 L1476.4,766.8 L1477.9,766.8 L1479.4,766.8 L1480.9,766.8 L1482.4,766.8 L1483.9,766.8 L1485.5,766.7 L1487.0,766.7 L1488.5,766.7 L1490.0,766.7 L1491.5,766.7 L1493.0,766.7 L1494.5,766.7 L1496.0,766.7 L1497.5,766.7 L1499.0,766.7 L1500.5,766.7 L1502.0,766.7 L1503.5,766.7 L1505.0,766.7 L1506.5,766.7 L1508.0,766.7 L1509.5,766.6 L1511.0,766.6 L1512.5,766.6 L1514.0,766.6 L1515.5,766.6 L1517.0,766.6 L1518.5,766.6 L1520.0,766.6 L1521.5,766.6 L1523.0,766.6 L1524.5,766.6 L1526.0,766.6 L1527.5,766.6 L1529.0,766.6 L1530.5,766.6 L1532.0,766.5 L1533.5,766.5 L1535.0,766.5 L1536.5,766.5 L1538.0,766.5 L1539.5,766.5 L1541.0,766.5 L1542.5,766.5 L1544.0,766.5 L1545.5,766.5 L1547.0,766.5 L1548.5,766.5 L1550.0,766.5 L1551.5,766.5 L1553.0,766.4 L1554.5,766.4 L1556.0,766.4 L1557.6,766.4 L1559.1,766.4 L1560.6,766.4 L1562.1,766.4 L1563.6,766.4 L1565.1,766.4 L1566.6,766.4 L1568.1,766.4 L1569.6,766.4 L1571.1,766.4 L1572.6,766.3 L1574.1,766.3 L1575.6,766.3 L1577.1,766.3 L1578.6,766.3 L1580.1,766.3 L1581.6,766.3 L1583.1,766.3 L1584.6,766.3 L1586.1,766.3 L1587.6,766.3 L1589.1,766.3 L1590.6,766.2 L1592.1,766.2 L1593.6,766.2 L1595.1,766.2 L1596.6,766.2 L1598.1,766.2 L1599.6,766.2 L1601.1,766.2 L1602.6,766.2 L1604.1,766.2 L1605.6,766.2 L1607.1,766.2 L1608.6,766.1 L1610.1,766.1 L1611.6,766.1 L1613.1,766.1 L1614.6,766.1 L1616.1,766.1 L1617.6,766.1 L1619.1,766.1 L1620.6,766.1 L1622.1,766.1 L1623.6,766.1 L1625.1,766.0 L1626.6,766.0 L1628.1,766.0 L1629.6,766.0 L1631.1,766.0 L1632.6,766.0 L1634.1,766.0 L1635.6,766.0 L1637.1,766.0 L1638.6,766.0 L1640.1,766.0 L1641.6,766.0 L1643.1,765.9 L1644.6,765.9 L1646.1,765.9 L1647.6,765.9 L1649.1,765.9 L1650.6,765.9 L1652.1,765.9 L1653.6,765.9 L1655.1,765.9 L1656.6,765.9 L1658.2,765.9 L1659.7,765.8 L1661.2,765.8 L1662.7,765.8 L1664.2,765.8 L1665.7,765.8 L1667.2,765.8 L1668.7,765.8 L1670.2,765.8 L1671.7,765.8 L1673.2,765.8 L1674.7,765.8 L1676.2,765.8 L1677.7,765.7 L1679.2,765.7 L1680.7,765.7 L1682.2,765.7 L1683.7,765.7 L1685.2,765.7 L1686.7,765.7 L1688.2,765.7 L1689.7,765.7 L1691.2,765.7 L1692.7,765.7 L1694.2,765.7 L1695.7,765.6 L1697.2,765.6 L1698.7,765.6 L1700.2,765.6 L1701.7,765.6 L1703.2,765.6 L1704.7,765.6 L1706.2,765.6 L1707.7,765.6 L1709.2,765.6 L1710.7,765.6 L1712.2,765.6 L1713.7,765.5 L1715.2,765.5 L1716.7,765.5 L1718.2,765.5 L1719.7,765.5 L1721.2,765.5 L1722.7,765.5 L1724.2,765.5 L1725.7,765.5 L1727.2,765.5 L1728.7,765.5 L1730.2,765.5 L1731.7,765.5 L1733.2,765.5 L1734.7,765.4 L1736.2,765.4 L1737.7,765.4 L1739.2,765.4 L1740.7,765.4 L1742.2,765.4 L1743.7,765.4 L1745.2,765.4 L1746.7,765.4 L1748.2,765.4 L1749.7,765.4 L1751.2,765.4 L1752.7,765.4 L1754.2,765.4 L1755.8,765.3 L1757.3,765.3 L1758.8,765.3 L1760.3,765.3 L1761.8,765.3 L1763.3,765.3 L1764.8,765.3 L1766.3,765.3 L1767.8,765.3 L1769.3,765.3 L1770.8,765.3 L1772.3,765.3 L1773.8,765.3 L1775.3,765.3 L1776.8,765.3 L1778.3,765.3 L1779.8,765.3 L1781.3,765.2 L1782.8,765.2 L1784.3,765.2 L1785.8,765.2 L1787.3,765.2 L1788.8,765.2 L1790.3,765.2 L1791.8,765.2 L1793.3,765.2 L1794.8,765.2 L1796.3,765.2 L1797.8,765.2 L1799.3,765.2 L1800.8,765.2 L1802.3,765.2 L1803.8,765.2 L1805.3,765.2 L1806.8,765.2 L1808.3,765.2 L1809.8,765.1 L1811.3,765.1 L1812.8,765.1 L1814.3,765.1 L1815.8,765.1 L1817.3,765.1 L1818.8,765.1 L1820.3,765.1 L1821.8,765.1 L1823.3,765.1 L1824.8,765.1 L1826.3,765.1 L1827.9,765.1 L1829.4,765.1 L1830.9,765.1 L1832.4,765.1 L1833.9,765.1 L1835.4,765.1 L1836.9,765.1 L1838.4,765.1 L1839.9,765.0 L1841.4,765.0 L1842.9,765.0 L1844.4,765.0 L1845.9,765.0 L1847.4,765.0 L1848.9,765.0 L1850.4,765.0 L1851.9,765.0 L1853.4,765.0 L1854.9,765.0 L1856.4,765.0 L1857.9,765.0 L1859.4,765.0 L1860.9,765.0 L1862.4,765.0 L1863.9,765.0 L1865.4,765.0 L1866.9,764.9 L1868.4,764.9 L1869.9,764.9 L1871.4,764.9 L1872.9,764.9 L1874.4,764.9 L1875.9,764.9 L1877.4,764.9 L1878.9,764.9 L1880.4,764.9 L1881.9,764.9 L1883.4,764.9 L1884.9,764.9 L1886.4,764.9 L1887.9,764.8 L1889.4,764.8 L1890.9,764.8 L1892.4,764.8 L1893.9,764.8 L1895.4,764.8 L1897.0,764.8 L1898.5,764.8 L1900.0,764.8 L1901.5,764.8 L1903.0,764.8 L1904.5,764.8 L1906.0,764.7 L1907.5,764.7 L1909.0,764.7 L1910.5,764.7 L1912.0,764.7 L1913.5,764.7 L1915.0,764.7 L1916.5,764.7 L1918.0,764.7 L1919.5,764.6 L1921.0,764.6 L1922.5,764.6 L1924.0,764.6 L1925.5,764.6 L1927.0,764.6 L1928.5,764.6 L1930.0,764.6 L1931.5,764.6 L1933.0,764.5 L1934.5,764.5 L1936.0,764.5 L1937.5,764.5 L1939.0,764.5 L1940.5,764.5 L1942.0,764.5 L1943.5,764.4 L1945.0,764.4 L1946.5,764.4 L1948.0,764.4" fill="none" stroke="#ef4040" stroke-width="6" stroke-linejoin="round" stroke-linecap="round"/>
<path d="M408.4,1102.6 L408.6,1101.1 L408.7,1099.6 L408.9,1098.1 L409.1,1096.6 L409.2,1095.1 L409.4,1093.6 L409.5,1092.1 L409.7,1090.6 L409.8,1089.2 L410.0,1087.7 L410.1,1086.2 L410.3,1084.7 L410.5,1083.2 L410.6,1081.8 L410.8,1080.3 L411.0,1078.8 L411.2,1077.3 L411.3,1075.8 L411.5,1074.3 L411.8,1072.8 L412.0,1071.3 L412.2,1069.8 L412.5,1068.3 L412.8,1066.8 L413.1,1065.3 L413.4,1063.8 L413.7,1062.3 L414.1,1060.9 L414.5,1059.4 L414.9,1058.0 L415.4,1056.5 L415.8,1055.1 L416.4,1053.7 L416.9,1052.3 L417.5,1051.0 L418.1,1049.7 L418.8,1048.3 L419.5,1047.0 L420.2,1045.8 L421.0,1044.5 L421.7,1043.2 L422.6,1042.0 L423.4,1040.8 L424.3,1039.5 L425.2,1038.3 L426.1,1037.1 L427.0,1035.9 L428.0,1034.8 L429.0,1033.6 L430.0,1032.4 L431.0,1031.3 L432.1,1030.2 L433.2,1029.1 L434.3,1028.0 L435.4,1026.9 L436.6,1025.9 L437.7,1024.9 L438.9,1024.0 L440.1,1023.1 L441.4,1022.2 L442.6,1021.4 L443.9,1020.6 L445.2,1019.9 L446.5,1019.2 L447.8,1018.6 L449.2,1018.0 L450.6,1017.4 L451.9,1016.9 L453.3,1016.4 L454.7,1015.9 L456.2,1015.5 L457.6,1015.1 L459.0,1014.7 L460.5,1014.3 L461.9,1014.0 L463.4,1013.7 L464.9,1013.4 L466.4,1013.1 L467.8,1012.8 L469.3,1012.5 L470.8,1012.2 L472.3,1012.0 L473.8,1011.7 L475.3,1011.4 L476.8,1011.2 L478.2,1010.9 L479.7,1010.6 L481.2,1010.3 L482.7,1010.0 L484.2,1009.8 L485.7,1009.5 L487.1,1009.2 L488.6,1008.9 L490.1,1008.6 L491.6,1008.3 L493.1,1008.1 L494.5,1007.8 L496.0,1007.5 L497.5,1007.2 L499.0,1006.9 L500.4,1006.6 L501.9,1006.3 L503.4,1006.0 L504.9,1005.7 L506.3,1005.4 L507.8,1005.1 L509.3,1004.8 L510.8,1004.5 L512.2,1004.2 L513.7,1003.9 L515.2,1003.6 L516.6,1003.3 L518.1,1003.0 L519.6,1002.7 L521.1,1002.4 L522.5,1002.1 L524.0,1001.8 L525.5,1001.5 L526.9,1001.2 L528.4,1000.8 L529.9,1000.5 L531.3,1000.2 L532.8,999.9 L534.3,999.6 L535.7,999.3 L537.2,999.0 L538.7,998.7 L540.1,998.4 L541.6,998.1 L543.1,997.8 L544.6,997.5 L546.0,997.2 L547.5,996.9 L549.0,996.6 L550.4,996.3 L551.9,996.0 L553.4,995.7 L554.8,995.4 L556.3,995.1 L557.8,994.8 L559.2,994.6 L560.7,994.3 L562.2,994.0 L563.7,993.7 L565.1,993.4 L566.6,993.1 L568.1,992.8 L569.5,992.6 L571.0,992.3 L572.5,992.0 L574.0,991.7 L575.4,991.5 L576.9,991.2 L578.4,990.9 L579.9,990.6 L581.3,990.4 L582.8,990.1 L584.3,989.8 L585.8,989.6 L587.2,989.3 L588.7,989.0 L590.2,988.8 L591.7,988.5 L593.2,988.2 L594.6,988.0 L596.1,987.7 L597.6,987.4 L599.1,987.2 L600.5,986.9 L602.0,986.7 L603.5,986.4 L605.0,986.2 L606.5,985.9 L607.9,985.6 L609.4,985.4 L610.9,985.1 L612.4,984.9 L613.9,984.6 L615.3,984.4 L616.8,984.1 L618.3,983.9 L619.8,983.6 L621.3,983.3 L622.7,983.1 L624.2,982.8 L625.7,982.6 L627.2,982.3 L628.7,982.1 L630.1,981.8 L631.6,981.6 L633.1,981.3 L634.6,981.1 L636.1,980.8 L637.6,980.6 L639.0,980.3 L640.5,980.0 L642.0,979.8 L643.5,979.5 L645.0,979.3 L646.4,979.0 L647.9,978.8 L649.4,978.5 L650.9,978.3 L652.4,978.0 L653.9,977.7 L655.3,977.5 L656.8,977.2 L658.3,977.0 L659.8,976.7 L661.3,976.4 L662.7,976.2 L664.2,975.9 L665.7,975.6 L667.2,975.4 L668.7,975.1 L670.2,974.8 L671.6,974.6 L673.1,974.3 L674.6,974.0 L676.1,973.8 L677.5,973.5 L679.0,973.2 L680.5,972.9 L682.0,972.6 L683.5,972.4 L684.9,972.1 L686.4,971.8 L687.9,971.5 L689.4,971.2 L690.8,970.9 L692.3,970.6 L693.8,970.3 L695.3,970.0 L696.7,969.7 L698.2,969.4 L699.7,969.1 L701.1,968.8 L702.6,968.4 L704.1,968.1 L705.5,967.8 L707.0,967.5 L708.5,967.1 L709.9,966.8 L711.4,966.4 L712.8,966.1 L714.3,965.8 L715.8,965.4 L717.2,965.0 L718.7,964.7 L720.1,964.3 L721.6,963.9 L723.0,963.6 L724.5,963.2 L725.9,962.8 L727.4,962.4 L728.8,962.0 L730.3,961.6 L731.7,961.2 L733.2,960.8 L734.6,960.4 L736.0,960.0 L737.5,959.5 L738.9,959.1 L740.3,958.7 L741.8,958.2 L743.2,957.8 L744.6,957.3 L746.0,956.9 L747.5,956.4 L748.9,955.9 L750.3,955.4 L751.7,955.0 L753.1,954.5 L754.6,954.0 L756.0,953.5 L757.4,952.9 L758.8,952.4 L760.2,951.9 L761.6,951.4 L763.0,950.8 L764.4,950.3 L765.8,949.7 L767.2,949.2 L768.6,948.6 L769.9,948.0 L771.3,947.4 L772.7,946.8 L774.1,946.2 L775.5,945.6 L776.8,945.0 L778.2,944.4 L779.6,943.8 L780.9,943.1 L782.3,942.5 L783.6,941.8 L785.0,941.2 L786.3,940.5 L787.7,939.8 L789.0,939.1 L790.4,938.4 L791.7,937.7 L793.0,937.0 L794.4,936.3 L795.7,935.6 L797.0,934.9 L798.3,934.1 L799.6,933.4 L800.9,932.6 L802.2,931.8 L803.5,931.0 L804.8,930.2 L806.1,929.4 L807.3,928.6 L808.6,927.8 L809.9,927.0 L811.1,926.1 L812.3,925.3 L813.6,924.4 L814.8,923.6 L816.0,922.7 L817.2,921.8 L818.4,920.9 L819.6,920.0 L820.8,919.0 L822.0,918.1 L823.1,917.1 L824.3,916.2 L825.4,915.2 L826.5,914.2 L827.6,913.2 L828.7,912.2 L829.8,911.2 L830.9,910.2 L832.0,909.1 L833.0,908.1 L834.1,907.0 L835.1,905.9 L836.1,904.8 L837.1,903.7 L838.1,902.6 L839.1,901.5 L840.1,900.3 L841.1,899.2 L842.0,898.0 L842.9,896.8 L843.9,895.7 L844.8,894.5 L845.7,893.3 L846.6,892.1 L847.5,890.9 L848.3,889.6 L849.2,888.4 L850.1,887.2 L850.9,885.9 L851.7,884.7 L852.6,883.4 L853.4,882.1 L854.2,880.8 L855.0,879.6 L855.7,878.3 L856.5,877.0 L857.3,875.7 L858.0,874.4 L858.8,873.0 L859.5,871.7 L860.3,870.4 L861.0,869.1 L861.7,867.8 L862.4,866.4 L863.1,865.1 L863.8,863.7 L864.4,862.4 L865.1,861.0 L865.8,859.7 L866.4,858.3 L867.1,857.0 L867.7,855.6 L868.3,854.3 L869.0,852.9 L869.6,851.5 L870.2,850.1 L870.8,848.8 L871.4,847.4 L872.0,846.0 L872.5,844.6 L873.1,843.2 L873.7,841.9 L874.3,840.5 L874.8,839.1 L875.4,837.7 L875.9,836.3 L876.5,834.9 L877.0,833.5 L877.5,832.1 L878.0,830.7 L878.6,829.3 L879.1,827.9 L879.6,826.5 L880.1,825.0 L880.6,823.6 L881.1,822.2 L881.6,820.8 L882.1,819.4 L882.6,818.0 L883.1,816.5 L883.5,815.1 L884.0,813.7 L884.5,812.3 L885.0,810.8 L885.4,809.4 L885.9,808.0 L886.4,806.6 L886.8,805.1 L887.3,803.7 L887.7,802.3 L888.2,800.8 L888.6,799.4 L889.1,798.0 L889.5,796.5 L890.0,795.1 L890.4,793.7 L890.8,792.2 L891.3,790.8 L891.7,789.3 L892.1,787.9 L892.5,786.4 L892.9,785.0 L893.4,783.6 L893.8,782.1 L894.2,780.7 L894.6,779.2 L895.0,777.8 L895.4,776.3 L895.8,774.9 L896.2,773.4 L896.6,772.0 L896.9,770.5 L897.3,769.1 L897.7,767.6 L898.1,766.2 L898.5,764.7 L898.8,763.2 L899.2,761.8 L899.6,760.3 L899.9,758.9 L900.3,757.4 L900.7,756.0 L901.0,754.5 L901.4,753.0 L901.7,751.6 L902.1,750.1 L902.4,748.7 L902.8,747.2 L903.1,745.7 L903.5,744.3 L903.8,742.8 L904.2,741.4 L904.5,739.9 L904.8,738.4 L905.2,737.0 L905.5,735.5 L905.8,734.0 L906.2,732.6 L906.5,731.1 L906.9,729.7 L907.2,728.2 L907.5,726.7 L907.9,725.3 L908.2,723.8 L908.5,722.3 L908.9,720.9 L909.2,719.4 L909.5,718.0 L909.9,716.5 L910.2,715.0 L910.6,713.6 L910.9,712.1 L911.3,710.7 L911.6,709.2 L912.0,707.7 L912.3,706.3 L912.7,704.8 L913.1,703.4 L913.4,701.9 L913.8,700.4 L914.2,699.0 L914.6,697.5 L915.0,696.1 L915.4,694.6 L915.8,693.2 L916.2,691.7 L916.6,690.3 L917.0,688.8 L917.4,687.4 L917.8,685.9 L918.3,684.5 L918.7,683.1 L919.1,681.6 L919.5,680.2 L920.0,678.7 L920.4,677.3 L920.8,675.9 L921.3,674.4 L921.7,673.0 L922.1,671.5 L922.6,670.1 L923.0,668.7 L923.4,667.2 L923.8,665.8 L924.2,664.4 L924.6,662.9 L925.0,661.5 L925.5,660.1 L925.9,658.6 L926.3,657.2 L926.7,655.8 L927.2,654.4 L927.7,653.0 L928.2,651.6 L928.8,650.2 L929.3,648.8 L930.0,647.4 L930.6,646.1 L931.4,644.7 L932.2,643.4 L933.0,642.0 L933.9,640.7 L934.9,639.4 L935.9,638.2 L937.0,637.0 L938.2,635.8 L939.4,634.8 L940.5,633.8 L941.7,633.0 L943.0,632.4 L944.1,632.0 L945.3,631.8 L946.4,631.8 L947.5,632.0 L948.6,632.5 L949.6,633.2 L950.5,634.1 L951.4,635.2 L952.3,636.4 L953.1,637.7 L953.9,639.1 L954.7,640.6 L955.4,642.2 L956.0,643.8 L956.6,645.4 L957.2,647.0 L957.8,648.6 L958.3,650.1 L958.8,651.6 L959.3,653.1 L959.7,654.5 L960.1,656.0 L960.5,657.4 L960.8,658.8 L961.2,660.3 L961.5,661.7 L961.8,663.1 L962.1,664.5 L962.3,665.9 L962.6,667.2 L962.9,668.6 L963.1,670.1 L963.4,671.5 L963.6,672.9 L963.8,674.3 L964.1,675.8 L964.3,677.3 L964.5,678.7 L964.8,680.2 L965.0,681.7 L965.2,683.2 L965.4,684.7 L965.7,686.2 L965.9,687.7 L966.1,689.2 L966.4,690.7 L966.6,692.2 L966.8,693.8 L967.0,695.3 L967.2,696.8 L967.5,698.3 L967.7,699.8 L967.9,701.3 L968.1,702.9 L968.4,704.4 L968.6,705.9 L968.8,707.4 L969.1,708.9 L969.3,710.3 L969.5,711.8 L969.7,713.3 L970.0,714.8 L970.2,716.3 L970.4,717.8 L970.7,719.2 L970.9,720.7 L971.1,722.2 L971.3,723.7 L971.6,725.1 L971.8,726.6 L972.0,728.1 L972.2,729.5 L972.4,731.0 L972.6,732.5 L972.8,734.0 L973.0,735.4 L973.2,736.9 L973.4,738.4 L973.6,739.9 L973.8,741.3 L974.0,742.8 L974.2,744.3 L974.4,745.8 L974.6,747.3 L974.8,748.8 L974.9,750.3 L975.1,751.7 L975.3,753.2 L975.4,754.7 L975.6,756.2 L975.8,757.7 L976.0,759.2 L976.1,760.7 L976.3,762.2 L976.5,763.7 L976.6,765.2 L976.8,766.7 L977.0,768.2 L977.1,769.7 L977.3,771.2 L977.5,772.7 L977.6,774.2 L977.8,775.7 L978.0,777.2 L978.2,778.7 L978.3,780.2 L978.5,781.7 L978.7,783.2 L978.9,784.7 L979.1,786.2 L979.2,787.7 L979.4,789.2 L979.6,790.7 L979.8,792.2 L980.0,793.6 L980.2,795.1 L980.4,796.6 L980.6,798.1 L980.9,799.6 L981.1,801.1 L981.3,802.6 L981.5,804.1 L981.8,805.5 L982.0,807.0 L982.2,808.5 L982.5,810.0 L982.7,811.5 L982.9,812.9 L983.2,814.4 L983.4,815.9 L983.7,817.4 L984.0,818.8 L984.2,820.3 L984.5,821.8 L984.8,823.3 L985.0,824.7 L985.3,826.2 L985.6,827.7 L985.9,829.2 L986.2,830.6 L986.5,832.1 L986.8,833.6 L987.1,835.0 L987.4,836.5 L987.7,838.0 L988.0,839.4 L988.3,840.9 L988.7,842.4 L989.0,843.8 L989.3,845.3 L989.7,846.8 L990.0,848.2 L990.4,849.7 L990.7,851.1 L991.1,852.6 L991.4,854.1 L991.8,855.5 L992.1,857.0 L992.5,858.4 L992.9,859.9 L993.3,861.3 L993.6,862.8 L994.0,864.3 L994.4,865.7 L994.8,867.2 L995.2,868.6 L995.6,870.1 L996.0,871.5 L996.4,873.0 L996.8,874.4 L997.3,875.8 L997.7,877.3 L998.1,878.7 L998.5,880.2 L999.0,881.6 L999.4,883.0 L999.9,884.5 L1000.3,885.9 L1000.7,887.4 L1001.2,888.8 L1001.7,890.2 L1002.1,891.6 L1002.6,893.1 L1003.1,894.5 L1003.5,895.9 L1004.0,897.3 L1004.5,898.8 L1005.0,900.2 L1005.5,901.6 L1006.0,903.0 L1006.5,904.4 L1007.0,905.8 L1007.5,907.3 L1008.0,908.7 L1008.6,910.1 L1009.1,911.5 L1009.6,912.9 L1010.2,914.3 L1010.7,915.7 L1011.3,917.1 L1011.8,918.5 L1012.4,919.9 L1013.0,921.3 L1013.5,922.6 L1014.1,924.0 L1014.7,925.4 L1015.3,926.8 L1015.9,928.2 L1016.5,929.5 L1017.1,930.9 L1017.7,932.3 L1018.3,933.6 L1019.0,935.0 L1019.6,936.3 L1020.3,937.7 L1021.0,939.0 L1021.6,940.4 L1022.3,941.7 L1023.0,943.0 L1023.8,944.3 L1024.5,945.6 L1025.2,946.9 L1026.0,948.2 L1026.8,949.5 L1027.6,950.8 L1028.4,952.0 L1029.2,953.3 L1030.0,954.5 L1030.9,955.8 L1031.8,957.0 L1032.7,958.2 L1033.6,959.4 L1034.6,960.6 L1035.5,961.7 L1036.5,962.9 L1037.5,964.0 L1038.5,965.1 L1039.5,966.3 L1040.6,967.4 L1041.7,968.4 L1042.7,969.5 L1043.8,970.5 L1045.0,971.6 L1046.1,972.6 L1047.2,973.5 L1048.4,974.5 L1049.6,975.5 L1050.8,976.4 L1052.0,977.3 L1053.2,978.2 L1054.4,979.0 L1055.7,979.9 L1056.9,980.7 L1058.2,981.5 L1059.5,982.3 L1060.8,983.0 L1062.1,983.7 L1063.5,984.4 L1064.8,985.1 L1066.2,985.7 L1067.5,986.3 L1068.9,986.9 L1070.3,987.5 L1071.7,988.0 L1073.1,988.5 L1074.5,989.0 L1075.9,989.5 L1077.4,989.9 L1078.8,990.3 L1080.3,990.7 L1081.7,991.1 L1083.2,991.4 L1084.6,991.8 L1086.1,992.1 L1087.6,992.4 L1089.1,992.7 L1090.6,993.0 L1092.0,993.2 L1093.5,993.5 L1095.0,993.7 L1096.5,993.9 L1098.0,994.1 L1099.5,994.3 L1101.0,994.5 L1102.5,994.6 L1104.0,994.8 L1105.5,995.0 L1107.0,995.1 L1108.5,995.2 L1110.0,995.3 L1111.5,995.4 L1113.0,995.6 L1114.5,995.6 L1115.9,995.7 L1117.4,995.8 L1118.9,995.9 L1120.4,995.9 L1121.9,996.0 L1123.4,996.1 L1124.9,996.1 L1126.4,996.1 L1127.9,996.2 L1129.4,996.2 L1130.9,996.2 L1132.4,996.3 L1133.9,996.3 L1135.4,996.3 L1137.0,996.3 L1138.5,996.3 L1140.0,996.3 L1141.5,996.3 L1143.0,996.3 L1144.5,996.3 L1146.0,996.3 L1147.5,996.3 L1149.0,996.3 L1150.5,996.3 L1152.0,996.3 L1153.5,996.3 L1155.0,996.3 L1156.5,996.3 L1158.0,996.3 L1159.5,996.2 L1161.0,996.2 L1162.5,996.2 L1164.0,996.2 L1165.5,996.2 L1167.0,996.2 L1168.5,996.2 L1170.0,996.2 L1171.5,996.2 L1173.0,996.2 L1174.5,996.2 L1176.0,996.2 L1177.5,996.2 L1179.0,996.2 L1180.5,996.2 L1182.0,996.2 L1183.5,996.2 L1185.0,996.2 L1186.5,996.2 L1188.0,996.1 L1189.5,996.1 L1191.0,996.1 L1192.5,996.1 L1194.0,996.1 L1195.5,996.1 L1197.0,996.1 L1198.5,996.1 L1200.0,996.1 L1201.5,996.1 L1203.1,996.1 L1204.6,996.1 L1206.1,996.1 L1207.6,996.1 L1209.1,996.1 L1210.6,996.1 L1212.1,996.1 L1213.6,996.1 L1215.1,996.1 L1216.6,996.1 L1218.1,996.1 L1219.6,996.1 L1221.1,996.1 L1222.6,996.1 L1224.1,996.1 L1225.6,996.1 L1227.1,996.1 L1228.6,996.1 L1230.1,996.1 L1231.6,996.1 L1233.1,996.0 L1234.6,996.0 L1236.1,996.0 L1237.6,996.0 L1239.1,996.0 L1240.6,996.0 L1242.1,996.0 L1243.6,996.0 L1245.1,996.0 L1246.6,996.0 L1248.1,996.0 L1249.6,996.0 L1251.1,996.0 L1252.6,996.0 L1254.1,996.0 L1255.6,996.0 L1257.1,996.0 L1258.6,996.0 L1260.1,996.0 L1261.6,996.0 L1263.1,996.0 L1264.6,996.0 L1266.1,996.0 L1267.6,996.0 L1269.1,996.0 L1270.6,996.0 L1272.1,996.0 L1273.6,996.0 L1275.1,996.0 L1276.6,996.0 L1278.2,996.0 L1279.7,996.0 L1281.2,996.0 L1282.7,996.0 L1284.2,996.0 L1285.7,996.0 L1287.2,996.0 L1288.7,996.0 L1290.2,996.0 L1291.7,996.0 L1293.2,996.0 L1294.7,996.0 L1296.2,996.0 L1297.7,996.0 L1299.2,996.0 L1300.7,996.0 L1302.2,996.0 L1303.7,996.0 L1305.2,996.0 L1306.7,996.0 L1308.2,996.0 L1309.7,996.0 L1311.2,996.0 L1312.7,996.0 L1314.2,996.0 L1315.7,996.0 L1317.2,996.0 L1318.7,996.0 L1320.2,995.9 L1321.7,995.9 L1323.2,995.9 L1324.7,995.9 L1326.2,995.9 L1327.7,995.9 L1329.2,995.9 L1330.7,995.9 L1332.2,995.9 L1333.7,995.9 L1335.2,995.9 L1336.7,995.9 L1338.2,995.9 L1339.7,995.9 L1341.2,995.9 L1342.7,995.9 L1344.2,995.9 L1345.7,995.9 L1347.2,995.9 L1348.7,995.9 L1350.2,995.9 L1351.7,995.9 L1353.2,995.9 L1354.7,995.9 L1356.2,995.9 L1357.8,995.9 L1359.3,995.9 L1360.8,995.9 L1362.3,995.9 L1363.8,995.9 L1365.3,995.9 L1366.8,995.9 L1368.3,995.9 L1369.8,995.9 L1371.3,995.9 L1372.8,995.9 L1374.3,995.9 L1375.8,995.9 L1377.3,995.9 L1378.8,995.9 L1380.3,995.9 L1381.8,995.9 L1383.3,995.9 L1384.8,995.9 L1386.3,995.9 L1387.8,995.9 L1389.3,995.9 L1390.8,995.9 L1392.3,995.9 L1393.8,995.9 L1395.3,995.9 L1396.8,995.9 L1398.3,995.9 L1399.8,995.8 L1401.3,995.8 L1402.8,995.8 L1404.3,995.8 L1405.8,995.8 L1407.3,995.8 L1408.8,995.8 L1410.3,995.8 L1411.8,995.8 L1413.3,995.8 L1414.8,995.8 L1416.3,995.8 L1417.8,995.8 L1419.3,995.8 L1420.8,995.8 L1422.3,995.8 L1423.8,995.8 L1425.3,995.8 L1426.8,995.8 L1428.3,995.8 L1429.8,995.8 L1431.3,995.8 L1432.8,995.8 L1434.3,995.8 L1435.8,995.8 L1437.3,995.8 L1438.8,995.8 L1440.4,995.8 L1441.9,995.7 L1443.4,995.7 L1444.9,995.7 L1446.4,995.7 L1447.9,995.7 L1449.4,995.7 L1450.9,995.7 L1452.4,995.7 L1453.9,995.7 L1455.4,995.7 L1456.9,995.7 L1458.4,995.7 L1459.9,995.7 L1461.4,995.7 L1462.9,995.7 L1464.4,995.7 L1465.9,995.7 L1467.4,995.7 L1468.9,995.7 L1470.4,995.7 L1471.9,995.6 L1473.4,995.6 L1474.9,995.6 L1476.4,995.6 L1477.9,995.6 L1479.4,995.6 L1480.9,995.6 L1482.4,995.6 L1483.9,995.6 L1485.4,995.6 L1486.9,995.6 L1488.4,995.6 L1489.9,995.6 L1491.4,995.6 L1492.9,995.6 L1494.4,995.6 L1495.9,995.5 L1497.4,995.5 L1498.9,995.5 L1500.4,995.5 L1501.9,995.5 L1503.4,995.5 L1504.9,995.5 L1506.4,995.5 L1507.9,995.5 L1509.4,995.5 L1510.9,995.5 L1512.4,995.5 L1513.9,995.5 L1515.4,995.5 L1517.0,995.5 L1518.5,995.4 L1520.0,995.4 L1521.5,995.4 L1523.0,995.4 L1524.5,995.4 L1526.0,995.4 L1527.5,995.4 L1529.0,995.4 L1530.5,995.4 L1532.0,995.4 L1533.5,995.4 L1535.0,995.4 L1536.5,995.4 L1538.0,995.4 L1539.5,995.3 L1541.0,995.3 L1542.5,995.3 L1544.0,995.3 L1545.5,995.3 L1547.0,995.3 L1548.5,995.3 L1550.0,995.3 L1551.5,995.3 L1553.0,995.3 L1554.5,995.3 L1556.0,995.3 L1557.5,995.3 L1559.0,995.3 L1560.5,995.2 L1562.0,995.2 L1563.5,995.2 L1565.0,995.2 L1566.5,995.2 L1568.0,995.2 L1569.5,995.2 L1571.0,995.2 L1572.5,995.2 L1574.0,995.2 L1575.5,995.2 L1577.0,995.2 L1578.5,995.2 L1580.0,995.1 L1581.5,995.1 L1583.0,995.1 L1584.5,995.1 L1586.0,995.1 L1587.5,995.1 L1589.0,995.1 L1590.5,995.1 L1592.0,995.1 L1593.6,995.1 L1595.1,995.1 L1596.6,995.1 L1598.1,995.1 L1599.6,995.1 L1601.1,995.0 L1602.6,995.0 L1604.1,995.0 L1605.6,995.0 L1607.1,995.0 L1608.6,995.0 L1610.1,995.0 L1611.6,995.0 L1613.1,995.0 L1614.6,995.0 L1616.1,995.0 L1617.6,995.0 L1619.1,995.0 L1620.6,995.0 L1622.1,994.9 L1623.6,994.9 L1625.1,994.9 L1626.6,994.9 L1628.1,994.9 L1629.6,994.9 L1631.1,994.9 L1632.6,994.9 L1634.1,994.9 L1635.6,994.9 L1637.1,994.9 L1638.6,994.9 L1640.1,994.9 L1641.6,994.9 L1643.1,994.9 L1644.6,994.8 L1646.1,994.8 L1647.6,994.8 L1649.1,994.8 L1650.6,994.8 L1652.1,994.8 L1653.6,994.8 L1655.1,994.8 L1656.6,994.8 L1658.1,994.8 L1659.6,994.8 L1661.1,994.8 L1662.6,994.8 L1664.1,994.8 L1665.6,994.8 L1667.1,994.8 L1668.6,994.8 L1670.2,994.7 L1671.7,994.7 L1673.2,994.7 L1674.7,994.7 L1676.2,994.7 L1677.7,994.7 L1679.2,994.7 L1680.7,994.7 L1682.2,994.7 L1683.7,994.7 L1685.2,994.7 L1686.7,994.7 L1688.2,994.7 L1689.7,994.7 L1691.2,994.7 L1692.7,994.7 L1694.2,994.7 L1695.7,994.7 L1697.2,994.7 L1698.7,994.6 L1700.2,994.6 L1701.7,994.6 L1703.2,994.6 L1704.7,994.6 L1706.2,994.6 L1707.7,994.6 L1709.2,994.6 L1710.7,994.6 L1712.2,994.6 L1713.7,994.6 L1715.2,994.6 L1716.7,994.6 L1718.2,994.6 L1719.7,994.6 L1721.2,994.6 L1722.7,994.6 L1724.2,994.6 L1725.7,994.5 L1727.2,994.5 L1728.7,994.5 L1730.2,994.5 L1731.7,994.5 L1733.2,994.5 L1734.7,994.5 L1736.2,994.5 L1737.7,994.5 L1739.2,994.5 L1740.7,994.5 L1742.2,994.5 L1743.7,994.5 L1745.2,994.5 L1746.7,994.5 L1748.2,994.5 L1749.8,994.4 L1751.3,994.4 L1752.8,994.4 L1754.3,994.4 L1755.8,994.4 L1757.3,994.4 L1758.8,994.4 L1760.3,994.4 L1761.8,994.4 L1763.3,994.4 L1764.8,994.4 L1766.3,994.4 L1767.8,994.4 L1769.3,994.4 L1770.8,994.3 L1772.3,994.3 L1773.8,994.3 L1775.3,994.3 L1776.8,994.3 L1778.3,994.3 L1779.8,994.3 L1781.3,994.3 L1782.8,994.3 L1784.3,994.3 L1785.8,994.3 L1787.3,994.2 L1788.8,994.2 L1790.3,994.2 L1791.8,994.2 L1793.3,994.2 L1794.8,994.2 L1796.3,994.2 L1797.8,994.2 L1799.3,994.2 L1800.8,994.1 L1802.3,994.1 L1803.8,994.1 L1805.3,994.1 L1806.8,994.1 L1808.3,994.1 L1809.8,994.1 L1811.3,994.1 L1812.8,994.1 L1814.3,994.0 L1815.8,994.0 L1817.3,994.0 L1818.8,994.0 L1820.3,994.0 L1821.8,994.0 L1823.3,994.0 L1824.8,993.9 L1826.3,993.9 L1827.8,993.9 L1829.4,993.9 L1830.9,993.9 L1832.4,993.9 L1833.9,993.8 L1835.4,993.8 L1836.9,993.8 L1838.4,993.8 L1839.9,993.8 L1841.4,993.8 L1842.9,993.7 L1844.4,993.7 L1845.9,993.7 L1847.4,993.7 L1848.9,993.7 L1850.4,993.7 L1851.9,993.6 L1853.4,993.6 L1854.9,993.6 L1856.4,993.6 L1857.9,993.6 L1859.4,993.5 L1860.9,993.5 L1862.4,993.5 L1863.9,993.5 L1865.4,993.5 L1866.9,993.4 L1868.4,993.4 L1869.9,993.4 L1871.4,993.4 L1872.9,993.4 L1874.4,993.3 L1875.9,993.3 L1877.4,993.3 L1878.9,993.3 L1880.4,993.2 L1881.9,993.2 L1883.4,993.2 L1884.9,993.2 L1886.4,993.1 L1887.9,993.1 L1889.4,993.1 L1890.9,993.1 L1892.4,993.0 L1893.9,993.0 L1895.4,993.0 L1896.9,992.9 L1898.4,992.9 L1899.9,992.9 L1901.4,992.9 L1902.9,992.8 L1904.4,992.8 L1905.9,992.8 L1907.5,992.8 L1909.0,992.7 L1910.5,992.7 L1912.0,992.7 L1913.5,992.7 L1915.0,992.6 L1916.5,992.6 L1918.0,992.6 L1919.5,992.6 L1921.0,992.6 L1922.5,992.6 L1924.0,992.5 L1925.5,992.5 L1927.0,992.5 L1928.5,992.5 L1930.0,992.5 L1931.5,992.5 L1933.0,992.5 L1934.5,992.5 L1936.0,992.5 L1937.5,992.5 L1939.0,992.6 L1940.5,992.6 L1942.0,992.6 L1943.5,992.6 L1945.0,992.6 L1946.5,992.7 L1948.0,992.7" fill="none" stroke="#1a6fdf" stroke-width="6" stroke-linejoin="round" stroke-linecap="round"/>
<path d="M482.0,1393.3 L482.2,1391.8 L482.3,1390.3 L482.5,1388.8 L482.6,1387.3 L482.8,1385.8 L482.9,1384.3 L483.1,1382.8 L483.2,1381.3 L483.3,1379.9 L483.5,1378.4 L483.6,1376.9 L483.8,1375.4 L484.0,1373.9 L484.1,1372.4 L484.3,1370.9 L484.5,1369.4 L484.7,1367.9 L485.0,1366.4 L485.2,1365.0 L485.5,1363.5 L485.8,1362.0 L486.0,1360.5 L486.3,1359.1 L486.7,1357.6 L487.0,1356.1 L487.4,1354.7 L487.7,1353.2 L488.1,1351.8 L488.6,1350.3 L489.0,1348.9 L489.4,1347.4 L489.9,1346.0 L490.4,1344.6 L490.9,1343.2 L491.4,1341.8 L492.0,1340.4 L492.6,1339.0 L493.2,1337.6 L493.8,1336.2 L494.5,1334.9 L495.2,1333.5 L495.9,1332.2 L496.6,1330.9 L497.4,1329.7 L498.2,1328.4 L499.1,1327.2 L500.0,1326.0 L500.9,1324.8 L501.9,1323.7 L502.9,1322.6 L504.0,1321.5 L505.0,1320.4 L506.2,1319.4 L507.3,1318.4 L508.5,1317.5 L509.7,1316.6 L510.9,1315.7 L512.2,1314.8 L513.4,1314.0 L514.7,1313.2 L516.1,1312.4 L517.4,1311.7 L518.7,1311.0 L520.1,1310.4 L521.5,1309.7 L522.8,1309.2 L524.2,1308.6 L525.6,1308.1 L527.0,1307.6 L528.5,1307.1 L529.9,1306.6 L531.3,1306.2 L532.8,1305.8 L534.2,1305.4 L535.7,1305.0 L537.1,1304.7 L538.6,1304.3 L540.0,1304.0 L541.5,1303.7 L543.0,1303.4 L544.4,1303.1 L545.9,1302.8 L547.4,1302.5 L548.9,1302.2 L550.3,1301.9 L551.8,1301.6 L553.3,1301.3 L554.7,1301.0 L556.2,1300.6 L557.7,1300.3 L559.2,1300.0 L560.6,1299.7 L562.1,1299.4 L563.6,1299.1 L565.0,1298.8 L566.5,1298.5 L568.0,1298.2 L569.4,1297.9 L570.9,1297.6 L572.4,1297.2 L573.8,1296.9 L575.3,1296.6 L576.8,1296.3 L578.2,1296.0 L579.7,1295.7 L581.1,1295.3 L582.6,1295.0 L584.1,1294.7 L585.5,1294.4 L587.0,1294.1 L588.5,1293.7 L589.9,1293.4 L591.4,1293.1 L592.9,1292.7 L594.3,1292.4 L595.8,1292.1 L597.3,1291.8 L598.7,1291.4 L600.2,1291.1 L601.6,1290.8 L603.1,1290.4 L604.6,1290.1 L606.0,1289.8 L607.5,1289.4 L609.0,1289.1 L610.4,1288.7 L611.9,1288.4 L613.4,1288.1 L614.8,1287.7 L616.3,1287.4 L617.7,1287.0 L619.2,1286.7 L620.7,1286.4 L622.1,1286.0 L623.6,1285.7 L625.1,1285.3 L626.5,1285.0 L628.0,1284.6 L629.5,1284.3 L630.9,1284.0 L632.4,1283.6 L633.8,1283.3 L635.3,1282.9 L636.8,1282.6 L638.2,1282.2 L639.7,1281.9 L641.2,1281.5 L642.6,1281.2 L644.1,1280.9 L645.6,1280.5 L647.0,1280.2 L648.5,1279.8 L649.9,1279.5 L651.4,1279.1 L652.9,1278.8 L654.3,1278.5 L655.8,1278.1 L657.3,1277.8 L658.7,1277.4 L660.2,1277.1 L661.6,1276.8 L663.1,1276.4 L664.6,1276.1 L666.0,1275.8 L667.5,1275.4 L669.0,1275.1 L670.4,1274.7 L671.9,1274.4 L673.4,1274.1 L674.8,1273.7 L676.3,1273.4 L677.7,1273.1 L679.2,1272.8 L680.7,1272.4 L682.1,1272.1 L683.6,1271.8 L685.1,1271.4 L686.5,1271.1 L688.0,1270.8 L689.5,1270.5 L690.9,1270.1 L692.4,1269.8 L693.8,1269.5 L695.3,1269.1 L696.8,1268.8 L698.2,1268.5 L699.7,1268.2 L701.2,1267.8 L702.6,1267.5 L704.1,1267.2 L705.5,1266.8 L707.0,1266.5 L708.5,1266.2 L709.9,1265.9 L711.4,1265.5 L712.9,1265.2 L714.3,1264.9 L715.8,1264.5 L717.2,1264.2 L718.7,1263.8 L720.2,1263.5 L721.6,1263.2 L723.1,1262.8 L724.6,1262.5 L726.0,1262.1 L727.5,1261.8 L728.9,1261.5 L730.4,1261.1 L731.9,1260.8 L733.3,1260.4 L734.8,1260.1 L736.2,1259.7 L737.7,1259.4 L739.2,1259.0 L740.6,1258.6 L742.1,1258.3 L743.5,1257.9 L745.0,1257.6 L746.5,1257.2 L747.9,1256.8 L749.4,1256.5 L750.8,1256.1 L752.3,1255.7 L753.8,1255.3 L755.2,1254.9 L756.7,1254.6 L758.1,1254.2 L759.6,1253.8 L761.0,1253.4 L762.5,1253.0 L763.9,1252.6 L765.4,1252.2 L766.8,1251.8 L768.3,1251.3 L769.7,1250.9 L771.2,1250.5 L772.6,1250.0 L774.0,1249.6 L775.5,1249.1 L776.9,1248.7 L778.3,1248.2 L779.7,1247.7 L781.2,1247.2 L782.6,1246.7 L784.0,1246.2 L785.4,1245.7 L786.8,1245.2 L788.2,1244.7 L789.6,1244.2 L791.0,1243.6 L792.4,1243.0 L793.8,1242.5 L795.1,1241.9 L796.5,1241.3 L797.9,1240.7 L799.2,1240.1 L800.6,1239.5 L801.9,1238.8 L803.3,1238.2 L804.6,1237.5 L806.0,1236.8 L807.3,1236.2 L808.6,1235.5 L809.9,1234.8 L811.2,1234.0 L812.5,1233.3 L813.8,1232.6 L815.1,1231.8 L816.4,1231.1 L817.7,1230.3 L819.0,1229.5 L820.3,1228.7 L821.5,1227.9 L822.8,1227.1 L824.0,1226.3 L825.3,1225.5 L826.5,1224.6 L827.8,1223.8 L829.0,1222.9 L830.3,1222.1 L831.5,1221.2 L832.7,1220.3 L833.9,1219.4 L835.1,1218.5 L836.3,1217.6 L837.5,1216.7 L838.7,1215.8 L839.9,1214.9 L841.1,1214.0 L842.3,1213.0 L843.5,1212.1 L844.7,1211.2 L845.8,1210.2 L847.0,1209.3 L848.2,1208.3 L849.3,1207.3 L850.5,1206.3 L851.6,1205.4 L852.8,1204.4 L853.9,1203.4 L855.0,1202.4 L856.2,1201.4 L857.3,1200.4 L858.4,1199.4 L859.5,1198.3 L860.6,1197.3 L861.7,1196.3 L862.8,1195.2 L863.8,1194.2 L864.9,1193.1 L866.0,1192.0 L867.0,1191.0 L868.1,1189.9 L869.1,1188.8 L870.1,1187.7 L871.1,1186.6 L872.1,1185.5 L873.1,1184.4 L874.1,1183.2 L875.1,1182.1 L876.0,1180.9 L877.0,1179.8 L877.9,1178.6 L878.8,1177.4 L879.7,1176.2 L880.6,1175.0 L881.5,1173.8 L882.4,1172.6 L883.2,1171.4 L884.1,1170.2 L884.9,1168.9 L885.7,1167.7 L886.5,1166.4 L887.3,1165.2 L888.1,1163.9 L888.9,1162.6 L889.6,1161.3 L890.4,1160.0 L891.1,1158.7 L891.9,1157.4 L892.6,1156.1 L893.3,1154.8 L894.0,1153.4 L894.7,1152.1 L895.4,1150.8 L896.0,1149.4 L896.7,1148.1 L897.3,1146.7 L898.0,1145.4 L898.6,1144.0 L899.2,1142.6 L899.9,1141.3 L900.5,1139.9 L901.1,1138.5 L901.7,1137.2 L902.3,1135.8 L902.8,1134.4 L903.4,1133.0 L904.0,1131.6 L904.6,1130.2 L905.1,1128.8 L905.7,1127.4 L906.2,1126.0 L906.8,1124.6 L907.3,1123.2 L907.8,1121.8 L908.3,1120.4 L908.9,1119.0 L909.4,1117.6 L909.9,1116.2 L910.4,1114.8 L910.9,1113.4 L911.4,1111.9 L912.0,1110.5 L912.5,1109.1 L913.0,1107.7 L913.5,1106.3 L914.0,1104.8 L914.5,1103.4 L915.0,1102.0 L915.4,1100.6 L915.9,1099.2 L916.4,1097.7 L916.9,1096.3 L917.4,1094.9 L917.9,1093.5 L918.4,1092.1 L918.8,1090.6 L919.3,1089.2 L919.8,1087.8 L920.3,1086.4 L920.7,1084.9 L921.2,1083.5 L921.7,1082.1 L922.1,1080.6 L922.6,1079.2 L923.1,1077.8 L923.5,1076.4 L924.0,1074.9 L924.4,1073.5 L924.9,1072.1 L925.3,1070.6 L925.8,1069.2 L926.2,1067.8 L926.6,1066.3 L927.1,1064.9 L927.5,1063.5 L927.9,1062.0 L928.3,1060.6 L928.8,1059.2 L929.2,1057.7 L929.6,1056.3 L930.0,1054.8 L930.4,1053.4 L930.8,1052.0 L931.2,1050.5 L931.6,1049.1 L932.0,1047.6 L932.4,1046.2 L932.8,1044.7 L933.2,1043.3 L933.6,1041.8 L933.9,1040.4 L934.3,1038.9 L934.7,1037.5 L935.0,1036.0 L935.4,1034.6 L935.8,1033.1 L936.1,1031.6 L936.5,1030.2 L936.8,1028.7 L937.2,1027.3 L937.5,1025.8 L937.8,1024.3 L938.2,1022.8 L938.5,1021.4 L938.8,1019.9 L939.1,1018.4 L939.5,1016.9 L939.8,1015.5 L940.1,1014.0 L940.4,1012.5 L940.7,1011.0 L941.0,1009.5 L941.3,1008.1 L941.7,1006.6 L942.0,1005.1 L942.3,1003.6 L942.6,1002.1 L942.9,1000.7 L943.2,999.2 L943.5,997.7 L943.8,996.2 L944.1,994.8 L944.4,993.3 L944.7,991.9 L945.1,990.4 L945.4,988.9 L945.7,987.5 L946.0,986.0 L946.3,984.6 L946.7,983.1 L947.0,981.7 L947.3,980.3 L947.6,978.8 L948.0,977.4 L948.3,975.9 L948.6,974.5 L949.0,973.1 L949.3,971.6 L949.6,970.2 L950.0,968.7 L950.3,967.3 L950.6,965.8 L950.9,964.4 L951.3,962.9 L951.6,961.5 L951.9,960.0 L952.2,958.5 L952.5,957.1 L952.8,955.6 L953.2,954.1 L953.5,952.6 L953.8,951.1 L954.1,949.6 L954.4,948.1 L954.7,946.6 L954.9,945.1 L955.2,943.6 L955.5,942.1 L955.8,940.5 L956.1,939.0 L956.4,937.5 L956.8,936.0 L957.1,934.5 L957.5,932.9 L957.9,931.4 L958.3,930.0 L958.7,928.5 L959.2,927.0 L959.7,925.6 L960.2,924.2 L960.8,922.8 L961.4,921.4 L962.0,920.0 L962.7,918.7 L963.5,917.4 L964.3,916.1 L965.1,914.8 L966.0,913.6 L967.0,912.4 L968.0,911.3 L969.1,910.2 L970.2,909.2 L971.3,908.3 L972.5,907.5 L973.7,906.8 L974.8,906.2 L976.0,905.7 L977.1,905.4 L978.2,905.3 L979.3,905.3 L980.4,905.5 L981.4,905.9 L982.4,906.5 L983.3,907.2 L984.2,908.1 L985.0,909.2 L985.9,910.3 L986.6,911.6 L987.4,913.0 L988.1,914.5 L988.7,916.0 L989.4,917.6 L990.0,919.3 L990.5,921.0 L991.1,922.7 L991.6,924.4 L992.1,926.1 L992.6,927.8 L993.0,929.5 L993.4,931.1 L993.8,932.7 L994.2,934.3 L994.5,935.9 L994.9,937.4 L995.2,938.9 L995.5,940.4 L995.8,941.8 L996.0,943.3 L996.3,944.7 L996.5,946.1 L996.8,947.5 L997.0,948.9 L997.2,950.3 L997.4,951.7 L997.6,953.0 L997.8,954.4 L998.0,955.8 L998.2,957.2 L998.4,958.5 L998.6,959.9 L998.8,961.3 L998.9,962.7 L999.1,964.1 L999.3,965.5 L999.5,966.9 L999.7,968.4 L999.9,969.8 L1000.1,971.3 L1000.4,972.8 L1000.6,974.3 L1000.8,975.8 L1001.0,977.3 L1001.2,978.8 L1001.4,980.3 L1001.7,981.8 L1001.9,983.4 L1002.1,984.9 L1002.3,986.4 L1002.6,988.0 L1002.8,989.5 L1003.0,991.1 L1003.2,992.6 L1003.4,994.2 L1003.7,995.7 L1003.9,997.2 L1004.1,998.8 L1004.3,1000.3 L1004.5,1001.8 L1004.7,1003.4 L1004.9,1004.9 L1005.1,1006.4 L1005.3,1007.9 L1005.5,1009.4 L1005.7,1010.9 L1005.8,1012.4 L1006.0,1013.9 L1006.2,1015.4 L1006.4,1016.9 L1006.5,1018.4 L1006.7,1019.8 L1006.9,1021.3 L1007.1,1022.8 L1007.2,1024.3 L1007.4,1025.7 L1007.6,1027.2 L1007.7,1028.7 L1007.9,1030.1 L1008.1,1031.6 L1008.2,1033.1 L1008.4,1034.5 L1008.6,1036.0 L1008.8,1037.5 L1008.9,1038.9 L1009.1,1040.4 L1009.3,1041.9 L1009.5,1043.3 L1009.7,1044.8 L1009.8,1046.3 L1010.0,1047.7 L1010.2,1049.2 L1010.4,1050.7 L1010.6,1052.2 L1010.8,1053.7 L1011.0,1055.1 L1011.2,1056.6 L1011.4,1058.1 L1011.6,1059.6 L1011.9,1061.1 L1012.1,1062.6 L1012.3,1064.1 L1012.5,1065.6 L1012.7,1067.1 L1013.0,1068.5 L1013.2,1070.0 L1013.4,1071.5 L1013.6,1073.0 L1013.9,1074.5 L1014.1,1076.0 L1014.3,1077.5 L1014.6,1079.0 L1014.8,1080.5 L1015.1,1082.0 L1015.3,1083.5 L1015.5,1085.0 L1015.8,1086.5 L1016.0,1088.0 L1016.3,1089.5 L1016.5,1091.0 L1016.7,1092.5 L1017.0,1093.9 L1017.2,1095.4 L1017.5,1096.9 L1017.7,1098.4 L1018.0,1099.9 L1018.2,1101.4 L1018.5,1102.9 L1018.7,1104.3 L1019.0,1105.8 L1019.2,1107.3 L1019.5,1108.8 L1019.7,1110.2 L1020.0,1111.7 L1020.3,1113.2 L1020.5,1114.7 L1020.8,1116.1 L1021.1,1117.6 L1021.3,1119.1 L1021.6,1120.5 L1021.9,1122.0 L1022.2,1123.5 L1022.5,1124.9 L1022.8,1126.4 L1023.1,1127.9 L1023.4,1129.3 L1023.7,1130.8 L1024.0,1132.2 L1024.3,1133.7 L1024.6,1135.2 L1025.0,1136.6 L1025.3,1138.1 L1025.6,1139.5 L1026.0,1141.0 L1026.4,1142.5 L1026.7,1143.9 L1027.1,1145.4 L1027.5,1146.8 L1027.8,1148.3 L1028.2,1149.7 L1028.6,1151.2 L1029.0,1152.6 L1029.4,1154.1 L1029.8,1155.5 L1030.2,1157.0 L1030.7,1158.4 L1031.1,1159.9 L1031.5,1161.3 L1031.9,1162.8 L1032.4,1164.2 L1032.8,1165.7 L1033.2,1167.1 L1033.7,1168.6 L1034.1,1170.0 L1034.6,1171.5 L1035.0,1172.9 L1035.5,1174.3 L1036.0,1175.8 L1036.4,1177.2 L1036.9,1178.6 L1037.4,1180.1 L1037.8,1181.5 L1038.3,1182.9 L1038.8,1184.4 L1039.3,1185.8 L1039.7,1187.2 L1040.2,1188.6 L1040.7,1190.1 L1041.2,1191.5 L1041.6,1192.9 L1042.1,1194.3 L1042.6,1195.7 L1043.1,1197.1 L1043.6,1198.5 L1044.1,1199.9 L1044.6,1201.3 L1045.1,1202.8 L1045.6,1204.2 L1046.1,1205.5 L1046.6,1206.9 L1047.1,1208.3 L1047.7,1209.7 L1048.2,1211.1 L1048.7,1212.5 L1049.3,1213.9 L1049.8,1215.3 L1050.4,1216.6 L1051.0,1218.0 L1051.6,1219.4 L1052.2,1220.7 L1052.8,1222.1 L1053.4,1223.5 L1054.0,1224.8 L1054.6,1226.2 L1055.3,1227.5 L1056.0,1228.9 L1056.6,1230.2 L1057.3,1231.6 L1058.0,1232.9 L1058.7,1234.2 L1059.5,1235.6 L1060.2,1236.9 L1061.0,1238.2 L1061.8,1239.5 L1062.5,1240.9 L1063.4,1242.2 L1064.2,1243.5 L1065.0,1244.8 L1065.9,1246.0 L1066.7,1247.3 L1067.6,1248.6 L1068.5,1249.8 L1069.4,1251.0 L1070.4,1252.3 L1071.3,1253.5 L1072.3,1254.7 L1073.3,1255.8 L1074.3,1257.0 L1075.3,1258.1 L1076.3,1259.3 L1077.4,1260.4 L1078.4,1261.4 L1079.5,1262.5 L1080.6,1263.5 L1081.7,1264.5 L1082.9,1265.5 L1084.0,1266.5 L1085.2,1267.4 L1086.4,1268.3 L1087.6,1269.2 L1088.8,1270.0 L1090.0,1270.8 L1091.3,1271.6 L1092.6,1272.3 L1093.8,1273.0 L1095.1,1273.7 L1096.5,1274.4 L1097.8,1275.0 L1099.1,1275.6 L1100.5,1276.1 L1101.9,1276.6 L1103.3,1277.1 L1104.7,1277.6 L1106.1,1278.1 L1107.5,1278.5 L1108.9,1278.9 L1110.4,1279.3 L1111.8,1279.6 L1113.3,1280.0 L1114.8,1280.3 L1116.2,1280.6 L1117.7,1280.9 L1119.2,1281.2 L1120.7,1281.5 L1122.2,1281.7 L1123.7,1282.0 L1125.2,1282.2 L1126.7,1282.4 L1128.2,1282.6 L1129.7,1282.9 L1131.2,1283.1 L1132.7,1283.3 L1134.2,1283.5 L1135.7,1283.6 L1137.2,1283.8 L1138.7,1284.0 L1140.2,1284.2 L1141.7,1284.4 L1143.2,1284.5 L1144.7,1284.7 L1146.2,1284.8 L1147.7,1285.0 L1149.2,1285.1 L1150.7,1285.2 L1152.2,1285.4 L1153.7,1285.5 L1155.2,1285.6 L1156.7,1285.7 L1158.2,1285.9 L1159.7,1286.0 L1161.2,1286.1 L1162.7,1286.2 L1164.2,1286.3 L1165.7,1286.4 L1167.2,1286.4 L1168.7,1286.5 L1170.2,1286.6 L1171.7,1286.7 L1173.2,1286.8 L1174.7,1286.8 L1176.2,1286.9 L1177.7,1286.9 L1179.2,1287.0 L1180.7,1287.1 L1182.2,1287.1 L1183.7,1287.1 L1185.2,1287.2 L1186.7,1287.2 L1188.2,1287.3 L1189.7,1287.3 L1191.2,1287.3 L1192.7,1287.4 L1194.2,1287.4 L1195.7,1287.4 L1197.2,1287.4 L1198.7,1287.4 L1200.2,1287.5 L1201.7,1287.5 L1203.2,1287.5 L1204.7,1287.5 L1206.2,1287.5 L1207.7,1287.5 L1209.2,1287.5 L1210.7,1287.5 L1212.2,1287.5 L1213.7,1287.5 L1215.2,1287.5 L1216.7,1287.5 L1218.2,1287.5 L1219.7,1287.4 L1221.2,1287.4 L1222.7,1287.4 L1224.2,1287.4 L1225.7,1287.4 L1227.2,1287.4 L1228.7,1287.3 L1230.2,1287.3 L1231.7,1287.3 L1233.2,1287.3 L1234.7,1287.2 L1236.2,1287.2 L1237.7,1287.2 L1239.2,1287.2 L1240.7,1287.1 L1242.2,1287.1 L1243.7,1287.1 L1245.2,1287.1 L1246.7,1287.0 L1248.2,1287.0 L1249.7,1287.0 L1251.2,1286.9 L1252.7,1286.9 L1254.2,1286.9 L1255.7,1286.9 L1257.2,1286.8 L1258.7,1286.8 L1260.2,1286.8 L1261.7,1286.7 L1263.2,1286.7 L1264.7,1286.7 L1266.2,1286.7 L1267.7,1286.6 L1269.2,1286.6 L1270.7,1286.6 L1272.2,1286.5 L1273.7,1286.5 L1275.2,1286.5 L1276.7,1286.5 L1278.2,1286.4 L1279.7,1286.4 L1281.2,1286.4 L1282.7,1286.4 L1284.2,1286.4 L1285.7,1286.3 L1287.2,1286.3 L1288.7,1286.3 L1290.2,1286.3 L1291.7,1286.2 L1293.2,1286.2 L1294.7,1286.2 L1296.2,1286.2 L1297.8,1286.2 L1299.3,1286.1 L1300.8,1286.1 L1302.3,1286.1 L1303.8,1286.1 L1305.3,1286.1 L1306.8,1286.1 L1308.3,1286.0 L1309.8,1286.0 L1311.3,1286.0 L1312.8,1286.0 L1314.3,1286.0 L1315.8,1286.0 L1317.3,1285.9 L1318.8,1285.9 L1320.3,1285.9 L1321.8,1285.9 L1323.3,1285.9 L1324.8,1285.9 L1326.3,1285.9 L1327.8,1285.8 L1329.3,1285.8 L1330.8,1285.8 L1332.3,1285.8 L1333.8,1285.8 L1335.3,1285.8 L1336.8,1285.8 L1338.3,1285.8 L1339.8,1285.8 L1341.3,1285.7 L1342.8,1285.7 L1344.3,1285.7 L1345.8,1285.7 L1347.3,1285.7 L1348.8,1285.7 L1350.3,1285.7 L1351.8,1285.7 L1353.3,1285.7 L1354.8,1285.7 L1356.3,1285.7 L1357.8,1285.6 L1359.3,1285.6 L1360.8,1285.6 L1362.3,1285.6 L1363.8,1285.6 L1365.3,1285.6 L1366.8,1285.6 L1368.3,1285.6 L1369.8,1285.6 L1371.3,1285.6 L1372.8,1285.6 L1374.3,1285.6 L1375.8,1285.6 L1377.3,1285.6 L1378.8,1285.6 L1380.3,1285.6 L1381.8,1285.6 L1383.3,1285.6 L1384.8,1285.6 L1386.3,1285.5 L1387.8,1285.5 L1389.3,1285.5 L1390.8,1285.5 L1392.4,1285.5 L1393.9,1285.5 L1395.4,1285.5 L1396.9,1285.5 L1398.4,1285.5 L1399.9,1285.5 L1401.4,1285.5 L1402.9,1285.5 L1404.4,1285.5 L1405.9,1285.5 L1407.4,1285.5 L1408.9,1285.5 L1410.4,1285.5 L1411.9,1285.5 L1413.4,1285.5 L1414.9,1285.5 L1416.4,1285.5 L1417.9,1285.5 L1419.4,1285.5 L1420.9,1285.5 L1422.4,1285.5 L1423.9,1285.5 L1425.4,1285.5 L1426.9,1285.5 L1428.4,1285.5 L1429.9,1285.5 L1431.4,1285.5 L1432.9,1285.5 L1434.4,1285.5 L1435.9,1285.5 L1437.4,1285.5 L1438.9,1285.5 L1440.4,1285.5 L1441.9,1285.5 L1443.4,1285.5 L1444.9,1285.5 L1446.4,1285.5 L1447.9,1285.5 L1449.4,1285.5 L1450.9,1285.5 L1452.4,1285.5 L1453.9,1285.5 L1455.4,1285.5 L1456.9,1285.5 L1458.4,1285.5 L1459.9,1285.6 L1461.4,1285.6 L1462.9,1285.6 L1464.4,1285.6 L1465.9,1285.6 L1467.4,1285.6 L1469.0,1285.6 L1470.5,1285.6 L1472.0,1285.6 L1473.5,1285.6 L1475.0,1285.6 L1476.5,1285.6 L1478.0,1285.6 L1479.5,1285.6 L1481.0,1285.6 L1482.5,1285.6 L1484.0,1285.6 L1485.5,1285.6 L1487.0,1285.6 L1488.5,1285.6 L1490.0,1285.6 L1491.5,1285.6 L1493.0,1285.6 L1494.5,1285.6 L1496.0,1285.6 L1497.5,1285.6 L1499.0,1285.6 L1500.5,1285.6 L1502.0,1285.6 L1503.5,1285.6 L1505.0,1285.6 L1506.5,1285.6 L1508.0,1285.6 L1509.5,1285.6 L1511.0,1285.6 L1512.5,1285.6 L1514.0,1285.6 L1515.5,1285.6 L1517.0,1285.7 L1518.5,1285.7 L1520.0,1285.7 L1521.5,1285.7 L1523.0,1285.7 L1524.5,1285.7 L1526.0,1285.7 L1527.5,1285.7 L1529.0,1285.7 L1530.5,1285.7 L1532.0,1285.7 L1533.5,1285.7 L1535.0,1285.7 L1536.5,1285.7 L1538.0,1285.7 L1539.5,1285.7 L1541.0,1285.7 L1542.6,1285.7 L1544.1,1285.7 L1545.6,1285.7 L1547.1,1285.7 L1548.6,1285.7 L1550.1,1285.7 L1551.6,1285.7 L1553.1,1285.7 L1554.6,1285.7 L1556.1,1285.7 L1557.6,1285.7 L1559.1,1285.7 L1560.6,1285.7 L1562.1,1285.7 L1563.6,1285.7 L1565.1,1285.7 L1566.6,1285.7 L1568.1,1285.7 L1569.6,1285.7 L1571.1,1285.7 L1572.6,1285.7 L1574.1,1285.7 L1575.6,1285.7 L1577.1,1285.7 L1578.6,1285.7 L1580.1,1285.7 L1581.6,1285.7 L1583.1,1285.7 L1584.6,1285.6 L1586.1,1285.6 L1587.6,1285.6 L1589.1,1285.6 L1590.6,1285.6 L1592.1,1285.6 L1593.6,1285.6 L1595.1,1285.6 L1596.6,1285.6 L1598.1,1285.6 L1599.6,1285.6 L1601.1,1285.6 L1602.6,1285.6 L1604.1,1285.6 L1605.6,1285.6 L1607.1,1285.6 L1608.6,1285.6 L1610.1,1285.6 L1611.6,1285.6 L1613.1,1285.6 L1614.6,1285.6 L1616.1,1285.5 L1617.6,1285.5 L1619.1,1285.5 L1620.6,1285.5 L1622.1,1285.5 L1623.6,1285.5 L1625.1,1285.5 L1626.7,1285.5 L1628.2,1285.5 L1629.7,1285.5 L1631.2,1285.5 L1632.7,1285.5 L1634.2,1285.5 L1635.7,1285.4 L1637.2,1285.4 L1638.7,1285.4 L1640.2,1285.4 L1641.7,1285.4 L1643.2,1285.4 L1644.7,1285.4 L1646.2,1285.4 L1647.7,1285.4 L1649.2,1285.4 L1650.7,1285.4 L1652.2,1285.3 L1653.7,1285.3 L1655.2,1285.3 L1656.7,1285.3 L1658.2,1285.3 L1659.7,1285.3 L1661.2,1285.3 L1662.7,1285.3 L1664.2,1285.3 L1665.7,1285.3 L1667.2,1285.3 L1668.7,1285.2 L1670.2,1285.2 L1671.7,1285.2 L1673.2,1285.2 L1674.7,1285.2 L1676.2,1285.2 L1677.7,1285.2 L1679.2,1285.2 L1680.7,1285.2 L1682.2,1285.1 L1683.7,1285.1 L1685.2,1285.1 L1686.7,1285.1 L1688.2,1285.1 L1689.7,1285.1 L1691.2,1285.1 L1692.7,1285.1 L1694.2,1285.1 L1695.7,1285.0 L1697.2,1285.0 L1698.7,1285.0 L1700.2,1285.0 L1701.7,1285.0 L1703.2,1285.0 L1704.7,1285.0 L1706.2,1285.0 L1707.7,1285.0 L1709.2,1285.0 L1710.7,1284.9 L1712.2,1284.9 L1713.7,1284.9 L1715.2,1284.9 L1716.7,1284.9 L1718.2,1284.9 L1719.7,1284.9 L1721.2,1284.9 L1722.7,1284.9 L1724.2,1284.8 L1725.7,1284.8 L1727.3,1284.8 L1728.8,1284.8 L1730.3,1284.8 L1731.8,1284.8 L1733.3,1284.8 L1734.8,1284.8 L1736.3,1284.8 L1737.8,1284.7 L1739.3,1284.7 L1740.8,1284.7 L1742.3,1284.7 L1743.8,1284.7 L1745.3,1284.7 L1746.8,1284.7 L1748.3,1284.7 L1749.8,1284.7 L1751.3,1284.6 L1752.8,1284.6 L1754.3,1284.6 L1755.8,1284.6 L1757.3,1284.6 L1758.8,1284.6 L1760.3,1284.6 L1761.8,1284.6 L1763.3,1284.6 L1764.8,1284.6 L1766.3,1284.6 L1767.8,1284.5 L1769.3,1284.5 L1770.8,1284.5 L1772.3,1284.5 L1773.8,1284.5 L1775.3,1284.5 L1776.8,1284.5 L1778.3,1284.5 L1779.8,1284.5 L1781.3,1284.5 L1782.8,1284.5 L1784.3,1284.4 L1785.8,1284.4 L1787.3,1284.4 L1788.8,1284.4 L1790.3,1284.4 L1791.8,1284.4 L1793.3,1284.4 L1794.8,1284.4 L1796.3,1284.4 L1797.8,1284.4 L1799.3,1284.4 L1800.8,1284.4 L1802.3,1284.4 L1803.8,1284.4 L1805.3,1284.3 L1806.8,1284.3 L1808.3,1284.3 L1809.8,1284.3 L1811.3,1284.3 L1812.8,1284.3 L1814.3,1284.3 L1815.8,1284.3 L1817.4,1284.3 L1818.9,1284.3 L1820.4,1284.3 L1821.9,1284.3 L1823.4,1284.3 L1824.9,1284.3 L1826.4,1284.3 L1827.9,1284.3 L1829.4,1284.3 L1830.9,1284.3 L1832.4,1284.2 L1833.9,1284.2 L1835.4,1284.2 L1836.9,1284.2 L1838.4,1284.2 L1839.9,1284.2 L1841.4,1284.2 L1842.9,1284.2 L1844.4,1284.2 L1845.9,1284.2 L1847.4,1284.2 L1848.9,1284.2 L1850.4,1284.2 L1851.9,1284.2 L1853.4,1284.2 L1854.9,1284.2 L1856.4,1284.2 L1857.9,1284.2 L1859.4,1284.1 L1860.9,1284.1 L1862.4,1284.1 L1863.9,1284.1 L1865.4,1284.1 L1866.9,1284.1 L1868.4,1284.1 L1869.9,1284.1 L1871.4,1284.1 L1872.9,1284.1 L1874.4,1284.1 L1875.9,1284.1 L1877.4,1284.1 L1878.9,1284.0 L1880.4,1284.0 L1881.9,1284.0 L1883.4,1284.0 L1884.9,1284.0 L1886.4,1284.0 L1887.9,1284.0 L1889.4,1284.0 L1890.9,1284.0 L1892.4,1283.9 L1893.9,1283.9 L1895.5,1283.9 L1897.0,1283.9 L1898.5,1283.9 L1900.0,1283.9 L1901.5,1283.9 L1903.0,1283.8 L1904.5,1283.8 L1906.0,1283.8 L1907.5,1283.8 L1909.0,1283.8 L1910.5,1283.8 L1912.0,1283.7 L1913.5,1283.7 L1915.0,1283.7 L1916.5,1283.7 L1918.0,1283.7 L1919.5,1283.6 L1921.0,1283.6 L1922.5,1283.6 L1924.0,1283.6 L1925.5,1283.5 L1927.0,1283.5 L1928.5,1283.5 L1930.0,1283.5 L1931.5,1283.4 L1933.0,1283.4 L1934.5,1283.4 L1936.0,1283.4 L1937.5,1283.3 L1939.0,1283.3 L1940.5,1283.3 L1942.0,1283.2 L1943.5,1283.2 L1945.0,1283.2 L1946.5,1283.1 L1948.0,1283.1" fill="none" stroke="#38ae6d" stroke-width="6" stroke-linejoin="round" stroke-linecap="round"/>
<rect x="190" y="51" width="1758" height="1408" fill="none" stroke="#000" stroke-width="8"/>
<line x1="337" y1="1445" x2="337" y2="1459" stroke="#000" stroke-width="8"/>
<line x1="483.0" y1="1431" x2="483.0" y2="1459" stroke="#000" stroke-width="8"/>
<line x1="630" y1="1445" x2="630" y2="1459" stroke="#000" stroke-width="8"/>
<line x1="776.0" y1="1431" x2="776.0" y2="1459" stroke="#000" stroke-width="8"/>
<line x1="923" y1="1445" x2="923" y2="1459" stroke="#000" stroke-width="8"/>
<line x1="1069.0" y1="1431" x2="1069.0" y2="1459" stroke="#000" stroke-width="8"/>
<line x1="1216" y1="1445" x2="1216" y2="1459" stroke="#000" stroke-width="8"/>
<line x1="1362.0" y1="1431" x2="1362.0" y2="1459" stroke="#000" stroke-width="8"/>
<line x1="1509" y1="1445" x2="1509" y2="1459" stroke="#000" stroke-width="8"/>
<line x1="1655.0" y1="1431" x2="1655.0" y2="1459" stroke="#000" stroke-width="8"/>
<line x1="1802" y1="1445" x2="1802" y2="1459" stroke="#000" stroke-width="8"/>
<text x="190" y="1534" text-anchor="middle" class="tl">30</text>
<text x="483" y="1534" text-anchor="middle" class="tl">40</text>
<text x="776" y="1534" text-anchor="middle" class="tl">50</text>
<text x="1069" y="1534" text-anchor="middle" class="tl">60</text>
<text x="1362" y="1534" text-anchor="middle" class="tl">70</text>
<text x="1655" y="1534" text-anchor="middle" class="tl">80</text>
<text x="1948" y="1534" text-anchor="middle" class="tl">90</text>
<text x="1070" y="1659" text-anchor="middle" class="ax" style="font-size:74.4px">Temperature (<tspan font-size="50" dy="-30">o</tspan><tspan dy="30">C)</tspan></text>
<text transform="translate(78,725.3) rotate(-90)" text-anchor="middle" class="ax" style="font-size:73.5px">Heat flow (endo up)</text>
<g stroke="#000" stroke-width="4.5">
<line x1="1209" y1="128" x2="1209" y2="207"/>
<line x1="1196" y1="128.5" x2="1221" y2="128.5"/>
<line x1="1196" y1="206.5" x2="1221" y2="206.5"/>
</g>
<text x="1257" y="185" class="sb">0.5 w/g</text>
<text x="1520" y="526" class="cl">32.5 <tspan font-size="56" dy="-31">o</tspan><tspan dy="31">C</tspan></text>
<text x="1532" y="755" class="cl">35 <tspan font-size="56" dy="-31">o</tspan><tspan dy="31">C</tspan></text>
<text x="1541" y="982" class="cl">37.5 <tspan font-size="56" dy="-31">o</tspan><tspan dy="31">C</tspan></text>
<text x="1547" y="1275" class="cl">40 <tspan font-size="56" dy="-31">o</tspan><tspan dy="31">C</tspan></text>
</svg>
</body></html>
